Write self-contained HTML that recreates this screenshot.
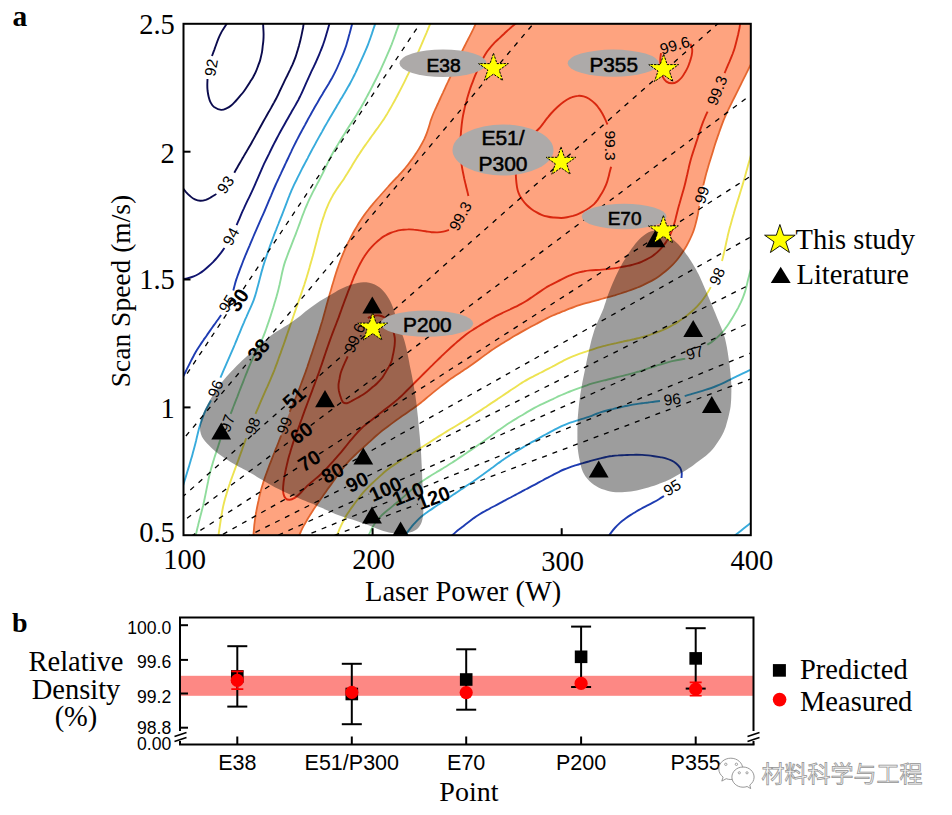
<!DOCTYPE html><html><head><meta charset="utf-8"><style>html,body{margin:0;padding:0;background:#fff;}svg{display:block;}.ser{font-family:"Liberation Serif","Times New Roman",serif;}.sans{font-family:"Liberation Sans",Arial,sans-serif;}</style></head><body>
<svg width="952" height="815" viewBox="0 0 952 815">
<defs><clipPath id="pc"><rect x="183.5" y="23.8" width="567.3" height="511.4"/></clipPath></defs>
<rect width="952" height="815" fill="#fff"/>
<g clip-path="url(#pc)">
<path d="M476.5,22 C476.1,22.9 474.9,25.6 474,27.5 C473.2,29.3 472.3,31.1 471.4,32.9 C470.5,34.7 469.6,36.4 468.7,38.2 C467.8,40 466.8,41.8 465.9,43.5 C465,45.3 464.1,47.1 463.2,48.9 C462.3,50.7 461.4,52.5 460.6,54.3 C459.7,56.1 458.9,57.9 458,59.7 C457.2,61.5 456.4,63.3 455.5,65.2 C454.7,67 453.9,68.8 453.1,70.7 C452.3,72.5 451.5,74.3 450.7,76.1 C449.8,78 449,79.8 448.2,81.6 C447.3,83.4 446.4,85.2 445.6,87 C444.7,88.8 443.9,90.6 443,92.4 C442.2,94.2 441.4,96.1 440.5,97.9 C439.7,99.7 438.9,101.5 438,103.3 C437.2,105.2 436.3,107 435.5,108.8 C434.7,110.6 433.8,112.4 433.1,114.3 C432.3,116.1 431.6,118 431,119.9 C430.4,121.7 429.8,123.7 429.3,125.6 C428.7,127.5 428.1,129.4 427.5,131.3 C426.8,133.1 426.1,135 425.3,136.8 C424.5,138.7 423.6,140.4 422.7,142.2 C421.8,144 421,145.5 419.8,147.4 C418.6,149.4 416.8,152.2 415.5,154.2 C414.2,156.1 413.3,157.5 412.1,159.1 C410.9,160.7 409.7,162.3 408.5,163.9 C407.3,165.5 406.1,167.1 404.8,168.6 C403.5,170.2 402.2,171.7 400.8,173.1 C399.5,174.6 398.1,176 396.7,177.5 C395.3,178.9 393.9,180.4 392.6,181.8 C391.2,183.3 389.9,184.7 388.5,186.2 C387.2,187.7 385.9,189.2 384.5,190.7 C383.2,192.2 381.9,193.7 380.5,195.2 C379.2,196.7 377.9,198.2 376.6,199.7 C375.3,201.2 373.9,202.7 372.7,204.2 C371.4,205.8 370.1,207.3 368.9,208.9 C367.6,210.5 366.4,212 365.2,213.7 C364.1,215.3 362.9,216.9 361.8,218.6 C360.7,220.2 359.6,221.9 358.6,223.6 C357.5,225.3 356.5,227 355.5,228.8 C354.5,230.5 353.5,232.2 352.5,234 C351.6,235.7 350.7,237.5 349.8,239.3 C348.8,241.1 347.9,242.9 347.1,244.7 C346.2,246.5 345.4,248.3 344.6,250.1 C343.8,251.9 343,253.8 342.3,255.6 C341.5,257.5 340.8,259.4 340.1,261.2 C339.4,263.1 338.7,265 338.1,266.9 C337.4,268.8 336.8,270.7 336.2,272.6 C335.6,274.5 335,276.4 334.4,278.3 C333.8,280.2 333.2,282.1 332.7,284 C332.1,286 331.5,287.9 331,289.8 C330.4,291.7 329.9,293.6 329.3,295.6 C328.8,297.5 328.2,299.4 327.7,301.3 C327.2,303.3 326.6,305.2 326.1,307.1 C325.6,309.1 325,311 324.5,312.9 C324,314.8 323.5,316.8 322.9,318.7 C322.4,320.6 321.8,322.5 321.2,324.5 C320.7,326.4 320.1,328.3 319.5,330.2 C318.9,332.1 318.3,334 317.7,335.9 C317,337.8 316.4,339.7 315.8,341.6 C315.2,343.5 314.5,345.4 313.9,347.3 C313.3,349.2 312.6,351.1 312,353 C311.4,354.9 310.7,356.8 310.1,358.7 C309.5,360.6 308.8,362.5 308.2,364.4 C307.6,366.3 306.9,368.2 306.2,370.1 C305.6,371.9 304.9,373.8 304.2,375.7 C303.5,377.6 302.8,379.5 302.1,381.3 C301.4,383.2 300.7,385.1 300,386.9 C299.3,388.8 298.6,390.7 297.8,392.5 C297.1,394.4 296.5,395.9 295.6,398.1 C294.7,400.2 293.3,403.3 292.4,405.4 C291.5,407.6 290.9,409.1 290.1,411 C289.3,412.8 288.5,414.7 287.8,416.5 C287.1,418.4 286.4,420.2 285.7,422.1 C285,424 284.3,425.9 283.7,427.8 C283,429.7 282.4,431.6 281.7,433.5 C281.1,435.3 280.4,437.2 279.7,439.1 C279,441 278.2,442.8 277.5,444.7 C276.8,446.5 276,448.4 275.3,450.2 C274.6,452.1 273.8,454 273.1,455.8 C272.4,457.7 271.6,459.6 270.9,461.4 C270.2,463.3 269.5,465.1 268.7,467 C268,468.9 267.3,470.8 266.7,472.6 C266,474.5 265.3,476.4 264.7,478.3 C264,480.2 263.4,482.1 262.8,484 C262.2,485.9 261.6,487.8 261.1,489.7 C260.6,491.7 260.1,493.6 259.6,495.6 C259.2,497.5 258.7,499.5 258.3,501.4 C257.9,503.4 257.5,505.3 257.1,507.3 C256.7,509.2 256.3,511.2 256,513.2 C255.7,515.1 255.3,517.1 255,519.1 C254.8,521.1 254.5,523.1 254.3,525 C254.1,527 253.9,529 253.8,531 C253.6,533 253.4,536 253.3,537 L298.5,537.0 C298.9,536.1 300,533.3 300.9,531.5 C301.7,529.7 302.6,527.9 303.5,526.2 C304.5,524.4 305.5,522.7 306.5,520.9 C307.5,519.2 308.5,517.5 309.6,515.8 C310.6,514.1 311.7,512.4 312.8,510.7 C313.9,509 315,507.4 316.1,505.7 C317.2,504 318.3,502.4 319.5,500.8 C320.6,499.1 321.8,497.5 322.9,495.9 C324.1,494.2 325.3,492.6 326.4,491 C327.6,489.3 328.8,487.7 329.9,486.1 C331.1,484.4 332.2,482.8 333.4,481.2 C334.6,479.6 335.7,477.9 336.9,476.3 C338.1,474.7 339.3,473.1 340.5,471.5 C341.7,469.9 342.9,468.3 344.1,466.7 C345.4,465.2 346.7,463.6 348,462.1 C349.3,460.6 350.7,459.2 352.1,457.7 C353.5,456.3 355,455 356.4,453.6 C357.9,452.3 359.4,450.9 360.9,449.6 C362.4,448.3 363.9,446.9 365.4,445.6 C366.9,444.3 368.3,442.9 369.8,441.6 C371.3,440.2 372.8,438.9 374.3,437.5 C375.8,436.2 377.3,434.9 378.8,433.6 C380.3,432.3 381.9,431 383.4,429.8 C385,428.5 386.6,427.3 388.2,426.1 C389.8,424.9 391.4,423.7 393,422.6 C394.7,421.4 396.3,420.2 397.9,419 C399.5,417.9 401.2,416.7 402.8,415.6 C404.5,414.4 406.1,413.3 407.8,412.2 C409.4,411.1 411.1,409.9 412.7,408.8 C414.4,407.6 416,406.5 417.6,405.3 C419.2,404 420.7,402.8 422.3,401.5 C423.8,400.3 425.4,399 426.9,397.7 C428.4,396.4 430,395.1 431.5,393.9 C433.1,392.6 434.6,391.3 436.2,390.1 C437.7,388.8 439.3,387.5 440.9,386.3 C442.4,385.1 444,383.8 445.6,382.6 C447.2,381.4 448.8,380.2 450.4,379.1 C452.1,377.9 453.7,376.8 455.4,375.7 C457.1,374.6 458.8,373.5 460.4,372.4 C462.1,371.3 463.8,370.2 465.4,369.1 C467.1,368 468.7,366.8 470.4,365.7 C472,364.5 473.6,363.4 475.3,362.2 C476.9,361 478.5,359.8 480.1,358.6 C481.7,357.5 483.3,356.3 485,355.1 C486.6,353.9 488.2,352.7 489.8,351.6 C491.5,350.4 493.1,349.3 494.8,348.2 C496.4,347 498.1,346 499.8,344.9 C501.5,343.8 503.2,342.8 504.9,341.8 C506.7,340.7 508.4,339.7 510.1,338.7 C511.8,337.6 513.5,336.6 515.2,335.6 C517,334.6 518.7,333.6 520.4,332.6 C522.2,331.6 523.9,330.6 525.7,329.6 C527.4,328.6 529.2,327.7 530.9,326.7 C532.7,325.8 534.5,324.8 536.2,323.9 C538,323 539.8,322 541.5,321.1 C543.3,320.2 545.1,319.2 546.9,318.3 C548.7,317.4 550.5,316.6 552.3,315.8 C554.1,314.9 556,314.2 557.8,313.4 C559.7,312.6 561.5,311.9 563.4,311.1 C565.2,310.4 567.1,309.6 569,308.9 C570.8,308.2 572.7,307.4 574.6,306.8 C576.4,306.1 578.3,305.4 580.2,304.8 C582.1,304.2 584.1,303.7 586,303.2 C587.9,302.6 589.9,302.1 591.8,301.6 C593.7,301.1 595.7,300.6 597.6,300.1 C599.5,299.5 601.5,299 603.4,298.5 C605.3,298 607.3,297.5 609.2,296.9 C611.1,296.4 613.1,295.8 615,295.2 C616.9,294.6 618.8,294 620.7,293.4 C622.6,292.8 624.5,292.2 626.4,291.5 C628.3,290.9 630.2,290.3 632.1,289.6 C634,288.9 635.8,288.2 637.7,287.4 C639.5,286.7 641.3,285.9 643.2,285 C645,284.2 646.8,283.3 648.5,282.4 C650.3,281.4 652.1,280.5 653.8,279.5 C655.5,278.5 657.2,277.4 658.8,276.3 C660.5,275.2 662,273.9 663.6,272.7 C665.2,271.5 666.7,270.2 668.2,268.9 C669.7,267.6 671.2,266.2 672.6,264.8 C674,263.4 675.3,261.9 676.6,260.4 C677.9,258.9 679,257.2 680.2,255.6 C681.4,254 682.5,252.3 683.6,250.7 C684.6,249 685.7,247.3 686.7,245.5 C687.6,243.8 688.6,242 689.5,240.2 C690.4,238.4 691.2,236.6 692,234.8 C692.8,233 693.5,231.1 694.1,229.2 C694.7,227.3 695.2,225.4 695.8,223.5 C696.3,221.5 696.8,219.6 697.2,217.6 C697.6,215.7 698,213.7 698.4,211.8 C698.7,209.8 699,207.8 699.4,205.8 C699.7,203.9 700,201.9 700.4,199.9 C700.8,198 701.1,196 701.5,194 C701.9,192.1 702.3,190.1 702.7,188.2 C703.2,186.2 703.6,184.2 704,182.3 C704.5,180.3 704.9,178.4 705.4,176.4 C705.9,174.5 706.5,172.6 707,170.7 C707.6,168.7 708.2,166.8 708.8,164.9 C709.3,163 709.9,161.1 710.5,159.2 C711.1,157.2 711.7,155.3 712.3,153.4 C712.9,151.5 713.5,149.6 714.1,147.7 C714.7,145.8 715.2,143.9 715.9,142 C716.5,140 717.1,138.1 717.8,136.3 C718.4,134.4 719.1,132.5 719.8,130.6 C720.4,128.7 721.1,126.8 721.8,124.9 C722.5,123.1 723.2,121.2 723.9,119.3 C724.7,117.5 725.5,115.7 726.3,113.8 C727.2,112 728.1,110.2 728.9,108.4 C729.8,106.6 730.7,104.8 731.6,103 C732.5,101.2 733.4,99.5 734.3,97.7 C735.2,95.9 736.1,94.1 737,92.3 C737.9,90.5 738.7,88.7 739.6,86.9 C740.5,85.1 741.4,83.3 742.3,81.5 C743.2,79.7 744.1,77.9 745,76.1 C745.9,74.3 746.8,72.6 747.7,70.8 C748.5,69 749.4,67.2 750.3,65.4 C751.2,63.6 752.6,60.9 753,60 L760,60 L760,15 L476,15 Z" fill="#fea37f"/>
<path d="M476.5,22 C476.1,22.9 474.9,25.7 474,27.5 C473.2,29.3 472.3,31.1 471.4,32.9 C470.5,34.7 469.6,36.5 468.7,38.2 C467.8,40 466.8,41.8 465.9,43.6 C465,45.4 464.1,47.1 463.2,48.9 C462.3,50.7 461.4,52.5 460.5,54.3 C459.7,56.1 458.8,58 458,59.8 C457.1,61.6 456.3,63.4 455.5,65.3 C454.7,67.1 453.9,68.9 453.1,70.8 C452.3,72.6 451.4,74.4 450.6,76.2 C449.8,78.1 448.9,79.9 448.1,81.7 C447.2,83.5 446.4,85.3 445.5,87.1 C444.7,89 443.8,90.8 443,92.6 C442.1,94.4 441.3,96.2 440.5,98 C439.6,99.9 438.8,101.7 438,103.5 C437.1,105.3 436.3,107.1 435.4,109 C434.6,110.8 433.8,112.6 433,114.5 C432.3,116.3 431.7,117.9 430.9,120.1 C430.2,122.3 429.3,125.5 428.6,127.7 C427.9,129.9 427.4,131.5 426.7,133.4 C426,135.2 425.2,137.1 424.4,138.9 C423.5,140.7 422.6,142.5 421.6,144.2 C420.7,146 419.7,147.7 418.6,149.4 C417.6,151.1 416.5,152.8 415.3,154.4 C414.2,156.1 413.1,157.7 411.9,159.4 C410.7,161 409.5,162.6 408.3,164.2 C407.1,165.8 405.8,167.3 404.6,168.9 C403.3,170.4 402,171.9 400.6,173.4 C399.3,174.9 397.8,176.3 396.5,177.7 C395.1,179.2 393.7,180.6 392.3,182.1 C390.9,183.6 389.6,185 388.3,186.5 C386.9,188 385.6,189.5 384.3,191 C382.9,192.5 381.6,194 380.3,195.5 C378.9,197 377.6,198.5 376.3,200 C375,201.5 373.7,203 372.4,204.6 C371.1,206.1 369.8,207.7 368.6,209.3 C367.4,210.8 366.1,212.4 365,214 C363.8,215.7 362.6,217.3 361.5,219 C360.4,220.6 359.4,222.3 358.3,224 C357.3,225.7 356.3,227.5 355.2,229.2 C354.2,230.9 353.3,232.7 352.3,234.4 C351.3,236.2 350.4,238 349.5,239.8 C348.6,241.5 347.7,243.3 346.8,245.2 C346,247 345.2,248.8 344.4,250.6 C343.6,252.5 342.8,254.3 342.1,256.2 C341.3,258 340.6,259.9 339.9,261.8 C339.2,263.7 338.5,265.5 337.9,267.4 C337.2,269.3 336.6,271.2 336,273.1 C335.4,275.1 334.8,277 334.2,278.9 C333.6,280.8 333.1,282.7 332.5,284.6 C331.9,286.6 331.4,288.5 330.8,290.4 C330.2,292.3 329.7,294.3 329.1,296.2 C328.6,298.1 328.1,299.7 327.5,302 C326.9,304.2 326,307.5 325.4,309.7 C324.8,312 324.3,313.6 323.8,315.5 C323.3,317.4 322.7,319.4 322.2,321.3 C321.6,323.2 321,325.1 320.4,327.1 C319.9,329 319.3,330.9 318.7,332.8 C318,334.7 317.4,336.6 316.8,338.5 C316.2,340.4 315.5,342.3 314.9,344.2 C314.3,346.1 313.7,348 313,349.9 C312.4,351.8 311.8,353.7 311.1,355.6 C310.5,357.5 309.9,359.4 309.2,361.3 C308.6,363.2 307.9,365.1 307.3,367 C306.6,368.9 306,370.8 305.3,372.7 C304.6,374.6 303.9,376.5 303.2,378.4 C302.5,380.2 301.8,382.1 301.1,384 C300.4,385.9 299.7,387.7 299,389.6 C298.3,391.5 297.5,393.3 296.7,395.2 C296,397.1 295.2,398.9 294.4,400.7 C293.6,402.6 292.9,404.4 292.1,406.3 C291.3,408.1 290.1,410.9 289.7,411.8" stroke="#e5672f" stroke-width="1.8" fill="none"/><path d="M281.2,435.5 C280.8,436.4 279.7,439.3 278.9,441.2 C278.2,443.1 277.4,445 276.7,446.8 C275.9,448.7 275.1,450.6 274.4,452.5 C273.6,454.4 272.9,456.3 272.2,458.2 C271.4,460.1 270.7,462 269.9,463.9 C269.2,465.8 268.5,467.7 267.8,469.6 C267.1,471.5 266.4,473.4 265.7,475.3 C265,477.3 264.5,478.9 263.7,481.1 C263,483.4 262,486.6 261.3,488.9 C260.7,491.2 260.3,492.8 259.8,494.8 C259.3,496.8 258.9,498.8 258.5,500.8 C258,502.8 257.6,504.8 257.2,506.8 C256.8,508.8 256.4,510.7 256.1,512.8 C255.7,514.8 255.4,516.8 255.1,518.8 C254.8,520.8 254.6,522.8 254.3,524.8 C254.1,526.9 254,528.9 253.8,530.9 C253.6,532.9 253.4,536 253.3,537" stroke="#e5672f" stroke-width="1.8" fill="none"/>
<path d="M298.5,537 C298.9,536.1 300,533.3 300.9,531.5 C301.7,529.7 302.6,527.9 303.5,526.2 C304.5,524.4 305.5,522.7 306.5,521 C307.5,519.2 308.5,517.5 309.6,515.8 C310.6,514.1 311.7,512.4 312.8,510.7 C313.8,509.1 314.9,507.4 316.1,505.7 C317.2,504.1 318.3,502.4 319.5,500.8 C320.6,499.1 321.8,497.5 322.9,495.9 C324.1,494.2 325.3,492.6 326.4,491 C327.6,489.3 328.7,487.7 329.9,486.1 C331.1,484.5 332.2,482.8 333.4,481.2 C334.6,479.6 335.7,477.9 336.9,476.3 C338.1,474.7 339.3,473.1 340.5,471.5 C341.7,469.9 342.9,468.3 344.1,466.7 C345.4,465.2 346.6,463.6 348,462.1 C349.3,460.6 350.7,459.2 352.1,457.8 C353.5,456.4 354.9,455 356.4,453.7 C357.9,452.3 359.4,451 360.9,449.6 C362.4,448.3 363.9,447 365.3,445.6 C366.8,444.3 368.3,442.9 369.8,441.6 C371.3,440.2 372.7,438.9 374.2,437.5 C375.7,436.2 377.2,434.9 378.7,433.6 C380.3,432.3 381.8,431 383.4,429.8 C385,428.6 386.6,427.4 388.2,426.2 C389.8,425 391.4,423.8 393,422.6 C394.6,421.4 396.2,420.2 397.9,419.1 C399.5,417.9 401.1,416.7 402.8,415.6 C404.4,414.5 406.1,413.3 407.7,412.2 C409.4,411.1 411,410 412.7,408.8 C414.3,407.7 415.9,406.5 417.5,405.3 C419.1,404.1 420.7,402.8 422.2,401.6 C423.8,400.3 425.3,399 426.8,397.7 C428.4,396.5 429.9,395.2 431.5,393.9 C433,392.6 434.6,391.3 436.1,390.1 C437.7,388.8 439.2,387.6 440.8,386.4 C442.4,385.1 444,383.9 445.6,382.7 C447.1,381.5 448.8,380.3 450.4,379.1 C452,378 453.7,376.8 455.3,375.7 C457,374.6 458.7,373.5 460.4,372.4 C462,371.3 463.7,370.3 465.4,369.1 C467,368 468.7,366.9 470.3,365.7 C472,364.6 473.6,363.4 475.2,362.2 C476.8,361.1 478.4,359.9 480,358.7 C481.7,357.5 483.3,356.3 484.9,355.1 C486.5,354 488.1,352.8 489.8,351.6 C491.4,350.5 493,349.3 494.7,348.2 C496.4,347.1 498,346 499.7,345 C501.4,343.9 503.1,342.9 504.9,341.8 C506.6,340.8 508.3,339.8 510,338.7 C511.7,337.7 513.4,336.7 515.2,335.6 C516.9,334.6 518.6,333.6 520.3,332.6 C522.1,331.6 523.8,330.6 525.6,329.6 C527.3,328.7 529.1,327.7 530.8,326.8 C532.6,325.8 534.4,324.9 536.1,324 C537.9,323 539.7,322.1 541.4,321.1 C543.2,320.2 545,319.3 546.8,318.4 C548.6,317.5 550.4,316.6 552.2,315.8 C554,315 555.9,314.2 557.7,313.4 C559.6,312.7 561.4,311.9 563.3,311.2 C565.1,310.4 567,309.7 568.8,308.9 C570.7,308.2 572.6,307.5 574.4,306.8 C576.3,306.1 578.2,305.5 580.1,304.9 C582,304.3 584,303.7 585.9,303.2 C587.8,302.7 589.7,302.2 591.7,301.6 C593.6,301.1 595.6,300.6 597.5,300.1 C599.4,299.6 601.4,299.1 603.3,298.5 C605.2,298 607.2,297.5 609.1,296.9 C611,296.4 612.9,295.8 614.8,295.3 C616.8,294.7 618.7,294.1 620.6,293.5 C622.5,292.8 624.4,292.2 626.3,291.6 C628.2,290.9 630.1,290.3 631.9,289.6 C633.8,288.9 635.7,288.2 637.5,287.5 C639.4,286.7 641.2,285.9 643,285.1 C644.8,284.2 646.6,283.3 648.4,282.4 C650.2,281.5 652,280.6 653.7,279.6 C655.4,278.6 657.1,277.5 658.7,276.4 C660.4,275.3 661.9,274 663.5,272.8 C665.1,271.6 666.6,270.3 668.1,269 C669.6,267.7 671.1,266.3 672.5,264.9 C673.9,263.5 675.2,262 676.5,260.5 C677.8,259 678.9,257.4 680.1,255.7 C681.3,254.1 682.4,252.5 683.5,250.8 C684.6,249.1 685.6,247.4 686.6,245.7 C687.6,243.9 688.5,242.2 689.4,240.4 C690.3,238.6 691.1,236.8 691.9,235 C692.7,233.1 693.4,231.3 694,229.4 C694.7,227.5 695.2,225.6 695.7,223.6 C696.2,221.7 696.7,219.8 697.1,217.8 C697.6,215.9 698,213.9 698.3,211.9 C698.6,210 699.1,207 699.2,206" stroke="#e5672f" stroke-width="1.8" fill="none"/><path d="M703.3,185.4 C703.5,184.4 704.2,181.5 704.7,179.5 C705.2,177.5 705.7,175.6 706.2,173.6 C706.7,171.7 707.3,169.8 707.9,167.8 C708.4,165.9 709,163.9 709.6,162 C710.2,160.1 710.8,158.2 711.4,156.2 C712,154.3 712.6,152.4 713.2,150.4 C713.8,148.5 714.4,146.6 715,144.6 C715.6,142.7 716.2,140.8 716.9,138.9 C717.5,137 718.2,135.1 718.9,133.1 C719.5,131.2 720.1,129.6 720.9,127.4 C721.7,125.2 722.9,122.1 723.7,119.9 C724.6,117.7 725.3,116.2 726.1,114.3 C727,112.5 727.8,110.7 728.7,108.9 C729.6,107 730.5,105.2 731.4,103.4 C732.3,101.6 733.2,99.8 734.1,98 C735,96.2 735.9,94.4 736.8,92.6 C737.7,90.8 738.6,89 739.5,87.1 C740.4,85.3 741.3,83.5 742.2,81.7 C743.1,79.9 744,78.1 744.9,76.3 C745.8,74.5 746.7,72.7 747.6,70.9 C748.5,69 749.4,67.2 750.3,65.4 C751.2,63.6 752.6,60.9 753,60" stroke="#e5672f" stroke-width="1.8" fill="none"/>
<path d="M227.9,22 C227.3,22.9 225.6,25.5 224.5,27.3 C223.4,29.1 222.2,30.8 221.2,32.6 C220.2,34.5 219.3,36.4 218.5,38.3 C217.7,40.2 217,42.2 216.3,44.2 C215.6,46.1 214.9,48.1 214.2,50.1 C213.4,52.1 212.4,55 212,56" stroke="#0b0b4e" stroke-width="1.9" fill="none"/><path d="M207.5,79 C207.5,80 207.3,83 207.3,85 C207.3,87 207.4,89.1 207.6,91 C207.9,93 208.2,95 208.7,96.9 C209.2,98.9 209.8,100.9 210.7,102.6 C211.6,104.3 212.4,105.8 214.1,107 C215.9,108.2 219.1,109.7 221.1,109.9 C223.2,110.1 224.8,109.2 226.5,108.4 C228.3,107.7 230,106.5 231.5,105.2 C233.1,104 234.4,102.4 235.7,101 C237.1,99.5 238.4,98 239.7,96.4 C241,94.9 242.4,93.4 243.6,91.8 C244.8,90.2 245.9,88.5 247,86.8 C248.1,85.1 249.2,83.4 250.2,81.7 C251.3,80 252.5,78.4 253.4,76.6 C254.4,74.9 255.3,73.1 256.1,71.2 C256.9,69.4 257.5,67.5 258.2,65.6 C258.9,63.7 259.6,62.1 260.2,59.9 C260.8,57.6 261.5,54.4 262,52.1 C262.4,49.8 262.5,48.1 262.7,46.1 C263,44.1 263.3,42.1 263.4,40.1 C263.6,38.1 263.6,36.1 263.6,34.1 C263.6,32.1 263.4,30 263.3,28 C263.2,26 263.1,23 263,22" stroke="#0b0b4e" stroke-width="1.9" fill="none"/>
<path d="M304,22 C303.8,23 303.3,26 303,28 C302.6,29.9 302.2,31.9 301.8,33.9 C301.4,35.9 301,37.8 300.5,39.8 C300,41.7 299.5,43.7 299,45.6 C298.4,47.5 297.9,49.5 297.3,51.4 C296.7,53.3 296.3,54.9 295.5,57.1 C294.7,59.3 293.4,62.4 292.5,64.6 C291.5,66.7 290.8,68.2 289.9,70.1 C289,71.9 288.1,73.7 287.3,75.5 C286.4,77.3 285.5,79.1 284.6,80.9 C283.8,82.7 282.9,84.6 282,86.4 C281.2,88.2 280.3,90 279.4,91.8 C278.6,93.7 277.7,95.5 276.8,97.3 C275.9,99.1 274.9,100.8 274,102.6 C273,104.4 272,106.1 271.1,107.9 C270.1,109.7 269.1,111.4 268.1,113.1 C267.1,114.9 266.1,116.6 265.1,118.4 C264.1,120.2 263.1,121.9 262.1,123.7 C261.2,125.4 260.2,127.2 259.2,129 C258.3,130.7 257.5,132.2 256.3,134.3 C255.2,136.3 253.6,139.3 252.4,141.3 C251.3,143.4 250.5,144.8 249.5,146.6 C248.5,148.3 247.4,150 246.4,151.8 C245.4,153.5 244.3,155.2 243.3,157 C242.3,158.7 241.3,160.5 240.3,162.2 C239.3,163.9 238.3,165.7 237.3,167.4 C236.3,169.2 234.8,171.8 234.3,172.7" stroke="#0b0b4e" stroke-width="1.9" fill="none"/><path d="M216.4,194 C215.5,194.5 212.9,196.3 211.2,197.2 C209.4,198.2 207.6,199.3 205.8,199.9 C204,200.4 202.1,200.9 200.3,200.8 C198.5,200.7 196.6,200.2 194.9,199.4 C193.2,198.6 191.6,197.4 190.1,196.1 C188.6,194.9 187.2,193.3 185.8,191.8 C184.5,190.3 182.6,187.8 182,187" stroke="#0b0b4e" stroke-width="1.9" fill="none"/>
<path d="M330,22 C329.7,23 328.9,25.8 328.3,27.8 C327.8,29.7 327.2,31.6 326.6,33.5 C326.1,35.4 325.5,37.4 324.9,39.3 C324.3,41.2 323.6,43.1 323,44.9 C322.3,46.8 321.6,48.7 320.8,50.5 C320.1,52.4 319.3,54.2 318.5,56.1 C317.8,57.9 316.9,59.7 316.1,61.6 C315.3,63.4 314.4,65.2 313.6,67 C312.7,68.8 311.9,70.6 311,72.4 C310.2,74.2 309.3,76.1 308.5,77.9 C307.7,79.7 306.9,81.5 306,83.3 C305.2,85.2 304.4,87 303.6,88.8 C302.8,90.6 302,92.5 301.1,94.3 C300.2,96.1 299.4,97.9 298.5,99.7 C297.5,101.4 296.6,103.2 295.6,104.9 C294.6,106.7 293.6,108.4 292.6,110.1 C291.6,111.8 290.6,113.6 289.6,115.3 C288.6,117 287.8,118.5 286.6,120.5 C285.5,122.6 283.9,125.5 282.7,127.5 C281.6,129.5 280.8,131 279.8,132.8 C278.9,134.5 277.9,136.3 277,138 C276.1,139.8 275.1,141.6 274.2,143.4 C273.3,145.2 272.4,146.9 271.5,148.7 C270.6,150.5 269.7,152.3 268.9,154.1 C268,155.9 267.1,157.7 266.2,159.5 C265.3,161.3 264.5,163.1 263.6,164.9 C262.8,166.7 262,168.5 261.2,170.4 C260.4,172.2 259.6,174 258.8,175.9 C258,177.7 257.2,179.6 256.4,181.4 C255.6,183.2 254.9,185.1 254,186.9 C253.2,188.7 252.4,190.5 251.5,192.4 C250.7,194.2 249.8,196 248.9,197.8 C248,199.6 247.2,201.3 246.3,203.1 C245.4,205 244.6,206.8 243.8,208.6 C242.9,210.4 242.1,212.2 241.3,214.1 C240.5,215.9 239.8,217.7 239,219.6 C238.2,221.4 237,224.2 236.6,225.1" stroke="#101470" stroke-width="1.9" fill="none"/><path d="M224.5,248 C223.9,248.8 222.1,251.3 220.9,252.9 C219.6,254.5 218.4,256.1 217.1,257.6 C215.8,259.1 214.4,260.6 213,262.1 C211.6,263.5 210.1,264.9 208.6,266.3 C207.1,267.7 205.6,269 204,270.2 C202.4,271.5 200.7,272.7 199,273.7 C197.3,274.7 195.5,275.6 193.7,276.3 C191.8,277.1 189.9,277.6 187.9,278.1 C186,278.6 183,279 182,279.2" stroke="#101470" stroke-width="1.9" fill="none"/>
<path d="M352.7,22 C352.4,23 351.7,25.9 351.1,27.8 C350.6,29.7 350.1,31.7 349.6,33.6 C349,35.6 348.5,37.5 348,39.4 C347.4,41.3 346.9,43.3 346.3,45.2 C345.7,47.1 345,49 344.3,50.9 C343.6,52.7 342.9,54.6 342.1,56.4 C341.3,58.3 340.5,60.1 339.7,62 C338.9,63.8 338.1,65.6 337.3,67.5 C336.5,69.3 335.6,71.1 334.7,72.9 C333.8,74.7 332.9,76.4 331.9,78.2 C330.9,79.9 329.9,81.7 328.9,83.4 C327.8,85.1 326.8,86.8 325.8,88.5 C324.7,90.2 323.7,92 322.7,93.7 C321.6,95.4 320.6,97.1 319.6,98.8 C318.6,100.6 317.6,102.3 316.6,104.1 C315.6,105.8 314.6,107.5 313.6,109.3 C312.6,111 311.6,112.8 310.7,114.5 C309.7,116.3 308.7,118 307.7,119.8 C306.8,121.6 305.8,123.3 304.9,125.1 C303.9,126.9 303,128.6 302,130.4 C301.1,132.2 300.1,133.9 299.2,135.7 C298.3,137.5 297.3,139.2 296.4,141 C295.5,142.8 294.6,144.6 293.7,146.4 C292.8,148.2 291.9,150 291.1,151.8 C290.2,153.6 289.4,155.4 288.5,157.3 C287.7,159.1 286.8,160.9 286,162.7 C285.1,164.5 284.3,166.3 283.4,168.2 C282.6,170 281.7,171.8 280.9,173.6 C280,175.4 279.2,177.2 278.3,179.1 C277.5,180.9 276.6,182.7 275.8,184.5 C275,186.4 274.2,188.2 273.4,190 C272.6,191.9 271.8,193.7 271.1,195.6 C270.3,197.4 269.5,199.3 268.7,201.1 C268,203 267.2,204.8 266.4,206.7 C265.6,208.5 264.9,210.4 264.1,212.2 C263.3,214.1 262.5,215.9 261.6,217.7 C260.8,219.6 260,221.4 259.2,223.2 C258.4,225.1 257.6,226.9 256.8,228.7 C256,230.6 255.2,232.4 254.4,234.2 C253.6,236.1 252.8,237.9 252,239.8 C251.2,241.6 250.4,243.5 249.7,245.3 C248.9,247.2 248.1,249 247.3,250.9 C246.6,252.7 245.8,254.6 245,256.4 C244.3,258.3 243.5,260.1 242.8,262 C242.1,263.9 241.3,265.8 240.6,267.6 C239.9,269.5 239.2,271.4 238.5,273.3 C237.8,275.1 237.2,277 236.5,278.9 C235.9,280.8 235.3,282.8 234.8,284.7 C234.3,286.6 233.6,289.5 233.3,290.5" stroke="#1e3cb2" stroke-width="1.9" fill="none"/><path d="M221.1,315 C220.5,315.8 218.8,318.3 217.6,320 C216.4,321.6 215.3,323.3 214.1,324.9 C212.9,326.6 211.8,328.3 210.6,329.9 C209.4,331.6 208.3,333.2 207.1,334.9 C206,336.6 204.8,338.2 203.6,339.9 C202.5,341.6 201.3,343.2 200.2,344.9 C199.1,346.6 198,348.3 196.9,350 C195.9,351.7 194.9,353.5 193.9,355.3 C193,357.1 192,358.9 191.1,360.7 C190.2,362.5 189.3,364.3 188.4,366.1 C187.5,367.9 186.6,369.7 185.7,371.5 C184.8,373.4 183.4,376.1 183,377" stroke="#1e3cb2" stroke-width="1.9" fill="none"/>
<path d="M375.8,22 C375.5,23 374.5,25.8 373.9,27.7 C373.2,29.6 372.6,31.5 372,33.4 C371.3,35.3 370.7,37.2 370,39.1 C369.3,41 368.7,42.9 367.9,44.8 C367.2,46.6 366.4,48.5 365.6,50.3 C364.8,52.2 364,54 363.2,55.8 C362.4,57.6 361.5,59.5 360.7,61.3 C359.9,63.1 359,65 358.2,66.8 C357.4,68.6 356.5,70.4 355.7,72.3 C354.8,74.1 354,75.9 353.1,77.7 C352.2,79.5 351.3,81.3 350.3,83 C349.4,84.8 348.3,86.5 347.3,88.2 C346.3,90 345.3,91.7 344.3,93.4 C343.3,95.2 342.2,96.9 341.2,98.6 C340.2,100.3 339.2,102.1 338.2,103.8 C337.1,105.5 336.3,107 335.1,109 C333.9,111 332.2,113.9 331,115.9 C329.8,117.9 329,119.4 328,121.1 C327,122.9 326,124.6 325,126.3 C324,128.1 323,129.8 322.1,131.6 C321.1,133.4 320.1,135.1 319.1,136.9 C318.2,138.6 317.2,140.4 316.2,142.1 C315.3,143.9 314.3,145.7 313.3,147.4 C312.4,149.2 311.4,151 310.5,152.7 C309.6,154.5 308.6,156.3 307.7,158.1 C306.8,159.8 305.8,161.6 304.9,163.4 C304,165.2 303,166.9 302.1,168.7 C301.2,170.5 300.3,172.3 299.4,174.1 C298.5,175.9 297.5,177.7 296.7,179.5 C295.8,181.3 294.9,183.1 294,184.9 C293.2,186.7 292.3,188.5 291.5,190.4 C290.8,192.2 290,194.1 289.3,195.9 C288.5,197.8 287.8,199.7 287.1,201.6 C286.4,203.4 285.7,205.3 285,207.2 C284.3,209.1 283.6,210.9 282.8,212.8 C282.1,214.7 281.4,216.5 280.6,218.4 C279.9,220.3 279.1,222.1 278.4,224 C277.6,225.9 276.9,227.7 276.2,229.6 C275.4,231.5 274.7,233.3 274,235.2 C273.3,237.1 272.6,239 271.9,240.8 C271.2,242.7 270.5,244.6 269.8,246.5 C269.2,248.4 268.5,250.3 267.8,252.2 C267.2,254.1 266.5,256 265.9,257.9 C265.2,259.8 264.6,261.7 264,263.6 C263.4,265.5 262.8,267.4 262.3,269.4 C261.7,271.3 261.2,273.2 260.7,275.2 C260.2,277.1 259.8,278.7 259.2,281 C258.6,283.3 257.7,286.5 257.1,288.8 C256.5,291 256.1,292.6 255.5,294.6 C254.9,296.5 254.3,298.4 253.6,300.3 C252.9,302.1 252.1,304 251.3,305.8 C250.5,307.6 249.7,309.5 248.8,311.3 C248,313.1 247.2,314.9 246.4,316.8 C245.5,318.6 244.7,320.4 244,322.3 C243.2,324.1 242.4,326 241.6,327.8 C240.9,329.7 240.1,331.6 239.4,333.4 C238.6,335.3 237.8,337.1 237.1,339 C236.3,340.8 235.5,342.7 234.8,344.5 C234,346.4 233.2,348.2 232.4,350.1 C231.6,351.9 230.8,353.8 230,355.6 C229.2,357.5 228.4,359.3 227.6,361.1 C226.8,363 226,364.8 225.2,366.7 C224.4,368.5 223.6,370.3 222.8,372.2 C222,374 220.8,376.8 220.4,377.7" stroke="#38abdc" stroke-width="1.9" fill="none"/><path d="M211,400.4 C210.5,401.3 209,403.9 208.1,405.7 C207.1,407.5 206.2,409.3 205.3,411.2 C204.5,413 203.7,414.9 202.9,416.8 C202.2,418.7 201.6,420.6 200.9,422.5 C200.3,424.4 199.7,426.4 199.1,428.3 C198.6,430.3 198.1,432.3 197.6,434.2 C197.1,436.2 196.7,437.9 196.2,440.2 C195.6,442.5 194.8,445.8 194.2,448.1 C193.6,450.4 193.1,452 192.6,453.9 C192.1,455.9 191.5,457.9 190.9,459.8 C190.4,461.8 189.8,463.7 189.2,465.7 C188.6,467.6 188,469.6 187.4,471.5 C186.8,473.5 186.2,475.4 185.6,477.4 C185,479.3 184.4,481.2 183.8,483.2 C183.2,485.1 182.3,488 182,489" stroke="#38abdc" stroke-width="1.9" fill="none"/>
<path d="M399.8,22 C399.5,22.9 398.4,25.8 397.8,27.7 C397.1,29.5 396.4,31.4 395.7,33.3 C395,35.2 394.4,37.1 393.7,39 C393,40.8 392.3,42.7 391.6,44.6 C390.8,46.4 390.1,48.3 389.3,50.2 C388.5,52 387.7,53.8 386.9,55.7 C386.1,57.5 385.3,59.3 384.5,61.2 C383.7,63 382.9,64.8 382,66.6 C381.2,68.5 380.4,70.3 379.5,72.1 C378.6,73.9 377.7,75.7 376.8,77.5 C375.9,79.3 375,81.1 374.1,82.8 C373.2,84.6 372.3,86.4 371.4,88.2 C370.5,90 369.5,91.7 368.6,93.5 C367.7,95.3 366.7,97 365.8,98.8 C364.8,100.6 363.8,102.3 362.9,104.1 C361.9,105.8 360.9,107.6 359.9,109.3 C358.9,111 357.8,112.7 356.8,114.4 C355.7,116.1 354.6,117.8 353.6,119.5 C352.5,121.2 351.4,122.9 350.3,124.6 C349.2,126.3 348.2,127.9 347.1,129.6 C346,131.3 345,133 343.9,134.7 C342.8,136.4 341.8,138.1 340.7,139.8 C339.7,141.5 338.6,143.2 337.6,145 C336.5,146.7 335.5,148.4 334.5,150.1 C333.5,151.8 332.5,153.6 331.6,155.3 C330.6,157.1 329.7,158.9 328.8,160.7 C327.9,162.5 327.1,164.3 326.2,166.1 C325.3,167.9 324.5,169.7 323.6,171.5 C322.7,173.3 321.8,175.1 320.9,176.9 C320,178.7 319.1,180.4 318.1,182.2 C317.2,184 316.2,185.7 315.3,187.5 C314.4,189.3 313.4,191.1 312.5,192.8 C311.6,194.6 310.7,196.4 309.9,198.2 C309,200 308.2,201.9 307.4,203.7 C306.6,205.5 305.9,207.1 305,209.2 C304.2,211.4 303,214.5 302.1,216.7 C301.3,218.9 300.8,220.4 300.1,222.3 C299.4,224.2 298.7,226.1 298,228 C297.3,229.8 296.6,231.7 295.9,233.6 C295.2,235.5 294.4,237.3 293.7,239.2 C293,241.1 292.3,242.9 291.5,244.8 C290.8,246.7 290.1,248.5 289.3,250.4 C288.6,252.3 287.9,254.1 287.2,256 C286.5,257.9 285.8,259.7 285.1,261.6 C284.5,263.5 283.9,265.4 283.4,267.4 C282.9,269.3 282.5,271.3 282,273.2 C281.6,275.2 281.2,277.1 280.8,279.1 C280.4,281 279.9,283 279.5,285 C279,286.9 278.6,288.9 278.1,290.8 C277.6,292.7 277,294.7 276.5,296.6 C275.9,298.5 275.4,300.4 274.8,302.3 C274.2,304.3 273.6,306.2 273.1,308.1 C272.5,310 271.9,311.9 271.3,313.8 C270.7,315.8 270.1,317.7 269.4,319.6 C268.8,321.5 268.1,323.3 267.5,325.2 C266.8,327.1 266.2,329 265.5,330.9 C264.8,332.8 264.1,334.7 263.3,336.5 C262.6,338.4 261.8,340.2 260.9,342 C260.1,343.8 259.2,345.6 258.2,347.4 C257.3,349.1 256.4,350.9 255.5,352.7 C254.6,354.5 253.7,356.3 252.8,358.1 C252,359.9 251.2,361.7 250.4,363.6 C249.6,365.4 248.9,367.3 248.1,369.1 C247.4,371 246.7,372.9 245.9,374.7 C245.2,376.6 244.4,378.4 243.7,380.3 C243,382.2 242.3,384 241.5,385.9 C240.8,387.8 240.1,389.6 239.3,391.5 C238.6,393.4 237.9,395.2 237.2,397.1 C236.4,399 235.7,400.8 235,402.7 C234.3,404.6 233.5,406.4 232.8,408.3 C232.1,410.2 231,413 230.6,413.9" stroke="#8fdc9c" stroke-width="1.9" fill="none"/><path d="M220.4,439.5 C220.1,440.5 219.1,443.3 218.5,445.2 C217.9,447.2 217.2,449.1 216.6,451 C216,452.9 215.3,454.8 214.7,456.7 C214.1,458.7 213.6,460.3 212.9,462.5 C212.3,464.8 211.3,468 210.7,470.2 C210,472.5 209.7,474.1 209.2,476.1 C208.8,478.1 208.4,480 208,482 C207.6,484 207.2,486 206.8,487.9 C206.4,489.9 206,491.9 205.6,493.9 C205.2,495.8 204.8,497.8 204.4,499.8 C204,501.8 203.6,503.4 203.1,505.7 C202.5,508 201.7,511.2 201.1,513.5 C200.5,515.8 200.1,517.4 199.6,519.3 C199.1,521.3 198.5,523.2 198.1,525.2 C197.6,527.2 197.1,529.1 196.7,531.1 C196.3,533 195.7,536 195.5,537" stroke="#8fdc9c" stroke-width="1.9" fill="none"/>
<path d="M431,22 C430.6,22.9 429.5,25.7 428.7,27.5 C427.9,29.4 427.1,31.2 426.4,33.1 C425.6,34.9 424.8,36.8 424,38.6 C423.2,40.4 422.5,42.3 421.7,44.1 C420.9,46 420.1,47.8 419.3,49.6 C418.5,51.5 417.7,53.3 416.9,55.1 C416.1,57 415.3,58.8 414.4,60.6 C413.6,62.4 412.8,64.3 412,66.1 C411.2,67.9 410.3,69.7 409.5,71.5 C408.6,73.3 407.7,75.1 406.8,76.9 C406,78.7 405.1,80.5 404.2,82.3 C403.3,84.1 402.4,85.9 401.5,87.7 C400.6,89.5 399.7,91.2 398.7,93 C397.8,94.8 396.9,96.6 395.9,98.3 C395,100.1 394,101.8 393,103.6 C392.1,105.3 391.1,107.1 390.1,108.8 C389.1,110.5 388.1,112.3 387.1,114 C386,115.7 385,117.4 383.9,119.1 C382.8,120.7 381.6,122.4 380.5,124 C379.3,125.6 378.2,127.3 377,128.9 C375.8,130.5 374.7,132.1 373.5,133.8 C372.3,135.4 371.1,137 370,138.6 C368.8,140.3 367.7,141.9 366.5,143.5 C365.3,145.2 364.2,146.8 363,148.4 C361.9,150.1 360.8,151.7 359.7,153.4 C358.6,155.1 357.5,156.7 356.4,158.4 C355.4,160.1 354.3,161.9 353.3,163.6 C352.3,165.3 351.2,167 350.2,168.7 C349.2,170.4 348.1,172.1 347.1,173.8 C346,175.5 345,177.2 343.9,178.9 C342.8,180.6 341.6,182.2 340.5,183.8 C339.3,185.5 338.1,187.1 337,188.7 C335.9,190.4 334.8,192.1 333.8,193.8 C332.8,195.5 331.9,197.3 330.9,199 C330,200.8 329.2,202.6 328.3,204.4 C327.5,206.3 326.7,208.1 326,209.9 C325.3,211.8 324.6,213.7 324,215.6 C323.3,217.5 322.7,219.4 322.1,221.3 C321.5,223.2 320.9,225.1 320.4,227 C319.8,228.9 319.3,230.9 318.8,232.8 C318.3,234.7 317.8,236.7 317.3,238.6 C316.8,240.6 316.3,242.5 315.8,244.4 C315.3,246.4 314.8,248.3 314.3,250.3 C313.8,252.2 313.3,254.1 312.8,256 C312.2,258 311.7,259.9 311.1,261.8 C310.6,263.8 310,265.7 309.5,267.6 C308.9,269.5 308.4,271.4 307.8,273.4 C307.2,275.3 306.7,277.2 306.1,279.1 C305.5,281 304.9,282.9 304.3,284.8 C303.6,286.7 303,288.6 302.3,290.5 C301.7,292.4 301,294.3 300.4,296.2 C299.7,298.1 299,300 298.4,301.8 C297.7,303.7 297.1,305.6 296.4,307.5 C295.7,309.4 295.1,311.3 294.4,313.2 C293.8,315.1 293.1,317 292.5,318.9 C291.8,320.7 291.2,322.6 290.5,324.5 C289.9,326.4 289.2,328.3 288.6,330.2 C287.9,332.1 287.3,334 286.6,335.9 C286,337.8 285.4,339.7 284.7,341.6 C284,343.5 283.4,345.4 282.7,347.2 C282,349.1 281.3,351 280.7,352.9 C280,354.8 279.3,356.6 278.6,358.5 C277.9,360.4 277.3,362.3 276.6,364.2 C275.9,366 275.2,367.9 274.5,369.8 C273.7,371.7 273,373.5 272.2,375.4 C271.5,377.2 270.7,379 269.9,380.9 C269.1,382.7 268.3,384.5 267.5,386.4 C266.6,388.2 265.8,390 265,391.9 C264.2,393.7 263.4,395.5 262.6,397.4 C261.8,399.2 261,401 260.2,402.9 C259.4,404.7 258.7,406.5 257.9,408.4 C257.1,410.2 255.9,413 255.5,413.9" stroke="#ede352" stroke-width="1.9" fill="none"/><path d="M246.1,438.2 C245.8,439.2 244.8,442 244.1,443.9 C243.4,445.8 242.7,447.7 242.1,449.6 C241.4,451.5 240.7,453.4 240,455.3 C239.3,457.2 238.7,459.1 238,461 C237.3,462.9 236.6,464.8 235.9,466.7 C235.2,468.6 234.5,470.5 233.8,472.4 C233.1,474.3 232.4,476.2 231.7,478.1 C231,480 230.3,481.9 229.7,483.8 C229,485.7 228.4,487.7 227.8,489.6 C227.2,491.5 226.6,493.4 226.1,495.4 C225.5,497.3 224.9,499.2 224.4,501.2 C223.9,503.2 223.4,505.1 223,507.1 C222.6,509.1 222.2,511 221.9,513 C221.5,515 221.2,517 220.9,519 C220.6,521 220.3,523 220,525 C219.7,527 219.4,529 219.1,531 C218.8,533 218.4,536 218.3,537" stroke="#ede352" stroke-width="1.9" fill="none"/>
<path d="M753,148 C752.7,149 751.9,151.9 751.3,153.8 C750.8,155.8 750.2,157.7 749.7,159.7 C749.1,161.6 748.6,163.6 748,165.5 C747.5,167.5 747,169.4 746.4,171.3 C745.9,173.3 745.3,175.2 744.8,177.2 C744.2,179.1 743.7,181.1 743.1,183 C742.6,185 742,186.9 741.4,188.8 C740.8,190.8 740.2,192.7 739.6,194.6 C739,196.6 738.5,198.2 737.8,200.4 C737.1,202.7 736.1,205.9 735.4,208.1 C734.7,210.4 734.2,212 733.7,213.9 C733.1,215.9 732.6,217.8 732,219.8 C731.5,221.7 730.9,223.7 730.4,225.6 C729.8,227.6 729.3,229.5 728.8,231.5 C728.3,233.4 727.8,235.4 727.4,237.4 C726.9,239.3 726.5,241.3 726.1,243.3 C725.7,245.3 725.3,247.2 724.8,249.2 C724.4,251.2 723.9,253.2 723.5,255.1 C723,257.1 722.2,260 722,261" stroke="#ede352" stroke-width="1.9" fill="none"/><path d="M710.8,287.1 C710.3,288 708.8,290.6 707.8,292.3 C706.7,294 705.7,295.7 704.5,297.3 C703.4,299 702.2,300.6 700.9,302.1 C699.6,303.6 698.3,305.1 696.9,306.6 C695.5,308 694.1,309.4 692.6,310.7 C691.1,312.1 689.6,313.3 688,314.6 C686.5,315.8 684.9,317.1 683.3,318.2 C681.6,319.4 680,320.5 678.3,321.6 C676.6,322.7 674.9,323.8 673.2,324.8 C671.5,325.8 669.7,326.8 667.9,327.6 C666.2,328.5 664.3,329.4 662.5,330.2 C660.7,331 658.8,331.7 656.9,332.4 C655.1,333.1 653.2,333.8 651.3,334.4 C649.4,335 647.4,335.6 645.5,336.2 C643.6,336.7 641.7,337.3 639.7,337.8 C637.8,338.3 635.8,338.7 633.9,339.2 C631.9,339.6 630,340.1 628,340.5 C626.1,340.9 624.1,341.3 622.1,341.8 C620.2,342.2 618.2,342.6 616.3,343.1 C614.3,343.5 612.3,343.9 610.4,344.4 C608.4,344.8 606.5,345.3 604.5,345.8 C602.6,346.3 600.7,346.9 598.8,347.4 C596.9,348 595,348.7 593,349.3 C591.1,349.9 589.2,350.5 587.3,351.2 C585.4,351.8 583.5,352.5 581.6,353.1 C579.7,353.8 577.8,354.4 576,355.1 C574.1,355.8 572.2,356.5 570.4,357.3 C568.6,358.1 566.8,359 565,359.9 C563.2,360.8 561.5,361.8 559.7,362.7 C557.9,363.7 556.2,364.6 554.4,365.6 C552.6,366.5 550.9,367.5 549.1,368.4 C547.3,369.3 545.5,370.2 543.7,371.2 C542,372.1 540.2,372.9 538.4,373.8 C536.6,374.7 534.8,375.6 533,376.6 C531.2,377.5 529.4,378.4 527.7,379.4 C526,380.4 524.2,381.4 522.5,382.4 C520.8,383.5 519.2,384.6 517.5,385.7 C515.8,386.8 514.1,387.9 512.5,389 C510.8,390.1 509.1,391.3 507.5,392.4 C505.8,393.5 504.1,394.6 502.5,395.7 C500.8,396.8 499.1,397.9 497.5,399.1 C495.8,400.2 494.1,401.3 492.5,402.4 C490.8,403.5 489.1,404.6 487.5,405.7 C485.8,406.9 484.1,408 482.5,409.1 C480.8,410.2 479.1,411.3 477.5,412.4 C475.8,413.5 474.1,414.6 472.4,415.7 C470.8,416.8 469.1,417.9 467.4,419 C465.7,420 464,421.1 462.3,422.1 C460.5,423.2 458.8,424.2 457.1,425.2 C455.4,426.3 453.7,427.3 451.9,428.3 C450.2,429.4 448.5,430.4 446.8,431.4 C445.1,432.5 443.3,433.5 441.6,434.6 C439.9,435.6 438.2,436.7 436.5,437.7 C434.8,438.8 433.2,439.9 431.5,441 C429.8,442.1 428.1,443.2 426.4,444.2 C424.7,445.3 423,446.4 421.4,447.5 C419.7,448.6 418,449.7 416.3,450.7 C414.6,451.8 412.9,452.9 411.2,454 C409.5,455 407.8,456.1 406.1,457.2 C404.4,458.3 402.7,459.3 401,460.4 C399.4,461.5 397.7,462.5 396,463.6 C394.3,464.7 392.6,465.8 391,467 C389.4,468.2 387.8,469.4 386.3,470.6 C384.7,471.9 383.2,473.2 381.7,474.6 C380.2,475.9 378.7,477.3 377.3,478.6 C375.8,480 374.3,481.3 372.8,482.7 C371.4,484 369.9,485.4 368.5,486.8 C367.1,488.2 365.7,489.7 364.4,491.2 C363,492.7 361.8,494.2 360.5,495.8 C359.3,497.3 358.1,498.9 356.9,500.5 C355.7,502.1 354.4,503.7 353.3,505.4 C352.1,507 350.9,508.6 349.8,510.2 C348.6,511.9 347.6,513.6 346.5,515.3 C345.5,517 344.6,518.8 343.7,520.5 C342.7,522.3 341.8,524.1 341,525.9 C340.1,527.7 339.3,529.6 338.6,531.4 C337.8,533.2 336.8,536.1 336.5,537" stroke="#ede352" stroke-width="1.9" fill="none"/>
<path d="M753,262 C752.7,263 751.8,265.9 751.3,267.8 C750.7,269.8 750.1,271.7 749.6,273.7 C749.1,275.7 748.6,277.6 748.1,279.6 C747.6,281.6 747.2,283.5 746.7,285.5 C746.2,287.5 745.7,289.4 745.1,291.4 C744.5,293.3 743.9,295.2 743.1,297.1 C742.4,299 741.5,300.8 740.7,302.6 C739.8,304.5 738.9,306.3 738,308.1 C737,309.9 736,311.6 735,313.4 C734,315.2 733,316.9 732,318.6 C730.9,320.4 729.8,322.1 728.7,323.8 C727.6,325.5 726.5,327.1 725.2,328.7 C724,330.3 722.7,331.9 721.3,333.3 C719.9,334.8 718.5,336.2 717,337.6 C715.5,338.9 713.9,340.2 712.3,341.4 C710.7,342.6 708.1,344.2 707.3,344.8" stroke="#8fdc9c" stroke-width="1.9" fill="none"/><path d="M685.3,358.6 C684.3,358.8 681.4,359.3 679.4,359.7 C677.4,360.1 675.5,360.5 673.5,360.9 C671.5,361.3 669.6,361.8 667.7,362.3 C665.7,362.8 663.8,363.4 661.9,364 C660,364.5 658.1,365.2 656.2,365.8 C654.3,366.4 652.4,367.1 650.5,367.7 C648.6,368.4 646.7,369 644.8,369.6 C642.9,370.3 641,370.9 639.1,371.5 C637.1,372 635.2,372.6 633.3,373.1 C631.4,373.7 629.4,374.2 627.5,374.7 C625.5,375.2 623.6,375.6 621.6,376.1 C619.7,376.6 617.8,377.1 615.8,377.5 C613.9,378 611.9,378.5 610,379 C608,379.5 606.1,379.9 604.1,380.4 C602.2,380.9 600.2,381.4 598.3,381.9 C596.4,382.4 594.4,382.9 592.5,383.4 C590.6,384 588.7,384.6 586.8,385.3 C584.9,385.9 583,386.6 581.1,387.3 C579.2,388 577.4,388.7 575.5,389.4 C573.6,390.1 571.7,390.8 569.9,391.5 C568,392.3 566.2,393 564.3,393.8 C562.5,394.6 560.6,395.4 558.8,396.2 C557,397.1 555.2,397.9 553.4,398.8 C551.5,399.6 549.7,400.4 547.9,401.3 C546.1,402.2 544.3,403 542.5,403.9 C540.7,404.7 538.9,405.6 537.1,406.5 C535.3,407.5 533.6,408.4 531.8,409.4 C530.1,410.4 528.4,411.4 526.6,412.4 C524.9,413.4 523.2,414.5 521.5,415.5 C519.7,416.5 518,417.5 516.3,418.6 C514.6,419.6 512.9,420.6 511.2,421.7 C509.5,422.8 507.8,423.8 506.1,425 C504.5,426.1 502.8,427.2 501.2,428.4 C499.6,429.6 497.9,430.7 496.3,431.9 C494.7,433.1 493.1,434.3 491.5,435.5 C489.9,436.7 488.2,437.8 486.6,439 C485,440.2 483.4,441.4 481.8,442.6 C480.1,443.7 478.5,444.9 476.8,446 C475.2,447.2 473.5,448.3 471.9,449.4 C470.2,450.6 468.6,451.7 466.9,452.8 C465.2,453.9 463.6,455 461.9,456.1 C460.2,457.2 458.6,458.3 456.9,459.5 C455.2,460.6 453.6,461.7 451.9,462.8 C450.2,463.8 448.5,464.9 446.8,466 C445.1,467 443.4,468.1 441.7,469.1 C440,470.2 438.3,471.2 436.5,472.2 C434.8,473.3 433.1,474.3 431.4,475.3 C429.7,476.4 428,477.4 426.3,478.5 C424.6,479.6 422.9,480.7 421.3,481.8 C419.7,483 418.1,484.2 416.5,485.5 C415,486.7 413.5,488.1 412,489.4 C410.5,490.7 409,492 407.5,493.4 C406,494.7 404.5,496.1 403,497.4 C401.5,498.7 400,500 398.5,501.3 C396.9,502.6 395.4,503.9 393.8,505.1 C392.3,506.4 390.7,507.7 389.2,508.9 C387.6,510.2 386,511.4 384.5,512.7 C383,514 381.5,515.4 380.2,516.8 C378.8,518.2 377.6,519.8 376.4,521.3 C375.2,522.9 374.1,524.6 373.1,526.3 C372.1,528 371.1,529.8 370.3,531.6 C369.4,533.3 368.4,536.1 368,537" stroke="#8fdc9c" stroke-width="1.9" fill="none"/>
<path d="M753,369 C752.1,369.4 749.2,370.5 747.3,371.3 C745.5,372.1 743.6,373 741.8,373.9 C739.9,374.7 738.1,375.7 736.2,376.6 C734.4,377.5 732.6,378.4 730.7,379.3 C728.9,380.2 727.1,381.2 725.2,382.1 C723.4,383 721.6,383.9 719.7,384.7 C717.8,385.5 715.9,386.3 714,387 C712.1,387.7 710.2,388.4 708.2,389 C706.3,389.6 704.3,390.2 702.4,390.8 C700.4,391.4 698.4,392 696.5,392.6 C694.5,393.2 692.5,393.7 690.6,394.3 C688.6,394.9 685.7,395.8 684.7,396.1" stroke="#38abdc" stroke-width="1.9" fill="none"/><path d="M660,401 C659,401.1 656,401.5 654,401.7 C652.1,402 650.1,402.2 648.1,402.5 C646.1,402.7 644.1,403 642.1,403.2 C640.1,403.5 638.2,403.8 636.2,404.1 C634.2,404.4 632.2,404.7 630.3,405.1 C628.3,405.5 626.4,405.9 624.4,406.3 C622.4,406.8 620.5,407.2 618.5,407.7 C616.6,408.1 614.6,408.6 612.7,409.1 C610.8,409.5 608.8,410 606.9,410.5 C605,411 603,411.6 601.1,412.2 C599.2,412.8 597.4,413.5 595.5,414.2 C593.6,414.9 591.8,415.7 589.9,416.4 C588,417 586.1,417.7 584.2,418.3 C582.3,418.9 580.4,419.5 578.5,420.1 C576.6,420.7 574.7,421.2 572.8,421.9 C570.9,422.5 569,423.1 567.1,423.8 C565.2,424.5 563.4,425.3 561.6,426.1 C559.8,427 558,427.9 556.2,428.8 C554.5,429.7 552.7,430.7 550.9,431.6 C549.2,432.6 547.4,433.5 545.6,434.5 C543.9,435.4 542.1,436.4 540.4,437.3 C538.6,438.3 536.9,439.3 535.1,440.3 C533.4,441.2 531.7,442.3 529.9,443.3 C528.2,444.3 526.8,445.1 524.8,446.3 C522.8,447.5 519.9,449.2 517.9,450.4 C515.9,451.6 514.4,452.5 512.7,453.5 C511,454.6 509.3,455.6 507.7,456.7 C506,457.8 504.3,459 502.7,460.1 C501.1,461.3 499.4,462.4 497.8,463.6 C496.2,464.8 494.6,466 493,467.2 C491.4,468.3 489.8,469.5 488.1,470.7 C486.5,471.9 484.9,473.1 483.3,474.3 C481.7,475.4 480,476.6 478.4,477.7 C476.8,478.9 475.1,480 473.5,481.2 C471.8,482.3 470.1,483.4 468.5,484.5 C466.8,485.6 465.2,486.7 463.5,487.9 C461.8,489 460.2,490.1 458.5,491.2 C456.8,492.3 455.2,493.4 453.5,494.5 C451.8,495.6 450.2,496.8 448.5,497.9 C446.8,499 445.2,500.1 443.5,501.2 C441.8,502.3 440.2,503.4 438.5,504.5 C436.9,505.6 435.2,506.8 433.5,507.9 C431.9,509 430.2,510.1 428.5,511.2 C426.9,512.4 425.3,513.5 423.7,514.7 C422.1,515.9 420.6,517.2 419.1,518.6 C417.7,519.9 416.3,521.4 415,522.8 C413.7,524.3 412.3,525.8 411.1,527.4 C409.8,528.9 408.6,530.5 407.4,532.1 C406.2,533.7 404.6,536.2 404,537" stroke="#38abdc" stroke-width="1.9" fill="none"/>
<path d="M450.5,537 C451.2,536.3 453.4,534.3 454.9,532.9 C456.4,531.6 457.9,530.3 459.5,529.1 C461.1,527.8 462.7,526.6 464.2,525.4 C465.8,524.1 467.4,522.9 469,521.7 C470.6,520.5 472.2,519.3 473.8,518.1 C475.5,516.9 477.1,515.8 478.8,514.7 C480.5,513.7 482.2,512.7 484,511.7 C485.7,510.7 487.5,509.7 489.3,508.8 C491,507.8 492.8,506.9 494.6,506 C496.4,505 498.1,504.1 499.9,503.1 C501.7,502.2 503.5,501.2 505.2,500.3 C507,499.3 508.8,498.4 510.6,497.5 C512.3,496.5 514.1,495.6 515.9,494.6 C517.6,493.7 519.4,492.7 521.2,491.8 C523,490.9 524.7,489.9 526.5,489 C528.3,488 530.1,487.1 531.8,486.1 C533.6,485.2 535.4,484.3 537.2,483.3 C538.9,482.4 540.7,481.4 542.5,480.5 C544.3,479.5 546,478.6 547.8,477.7 C549.6,476.7 551.3,475.8 553.1,474.8 C554.9,473.9 556.7,472.9 558.5,472.1 C560.3,471.2 561.7,470.4 563.9,469.5 C566.1,468.6 569.2,467.5 571.4,466.7 C573.6,465.9 575.2,465.5 577.1,464.9 C579.1,464.3 581,463.7 582.9,463.2 C584.8,462.6 586.8,462 588.7,461.5 C590.6,460.9 592.6,460.4 594.5,459.9 C596.4,459.4 598.4,458.9 600.3,458.4 C602.3,457.9 604.2,457.4 606.2,457 C608.2,456.6 610.1,456.2 612.1,456 C614.1,455.7 616.1,455.5 618.1,455.4 C620.1,455.2 622.1,455.2 624.1,455.1 C626.1,455 628.1,455 630.1,454.9 C632.1,454.9 634.1,454.8 636.1,454.8 C638.1,454.8 640.1,454.8 642.1,454.9 C644.1,455 646.1,455.2 648.1,455.4 C650.1,455.6 652.1,455.9 654.1,456.2 C656.1,456.5 658.1,456.8 660,457.1 C662,457.5 664,457.8 665.8,458.3 C667.7,458.9 669.6,459.5 671.3,460.4 C673.1,461.2 674.8,462.3 676.2,463.5 C677.6,464.7 679,466.1 680,467.6 C680.9,469.1 681.4,470.8 681.7,472.6 C681.9,474.3 681.5,477.1 681.5,478" stroke="#1e3cb2" stroke-width="1.9" fill="none"/><path d="M664,496 C663.2,496.5 660.6,498.2 658.9,499.2 C657.2,500.3 655.8,501.1 653.7,502.2 C651.6,503.3 648.6,504.8 646.5,505.9 C644.4,507 642.9,507.7 641.2,508.7 C639.4,509.7 637.7,510.7 635.9,511.7 C634.2,512.8 632.5,513.8 630.8,514.9 C629.1,516 627.5,517.1 625.8,518.3 C624.2,519.5 622.8,520.4 621,521.9 C619.3,523.5 616.9,525.8 615.3,527.5 C613.7,529.2 612.7,530.5 611.5,532.1 C610.3,533.7 608.6,536.2 608,537" stroke="#1e3cb2" stroke-width="1.9" fill="none"/>
<path d="M733,537 C733.8,536.3 736.3,534.3 738,533 C739.7,531.7 741.4,530.4 743,529 C744.7,527.7 746.4,526.4 748.1,525.1 C749.7,523.7 752.2,521.7 753,521" stroke="#38abdc" stroke-width="1.9" fill="none"/>
<path d="M517.4,22 C516.6,22.7 514.4,24.6 512.8,25.9 C511.3,27.3 509.8,28.6 508.3,29.9 C506.8,31.3 505.3,32.6 503.9,34 C502.4,35.3 500.9,36.7 499.5,38.1 C498,39.5 496.5,40.8 495.1,42.2 C493.7,43.7 492.3,45.1 491,46.6 C489.7,48.1 488.5,49.7 487.3,51.3 C486.2,53 485.2,54.7 484.1,56.4 C483.1,58.1 482.2,59.9 481.3,61.7 C480.4,63.5 479.5,65.3 478.7,67.1 C477.9,69 477.1,70.8 476.4,72.7 C475.6,74.5 474.8,76.4 474.1,78.2 C473.4,80.1 472.6,82 471.9,83.9 C471.2,85.7 470.5,87.6 469.9,89.5 C469.3,91.4 468.7,93.4 468.1,95.3 C467.5,97.2 467,99.1 466.5,101.1 C465.9,103 465.4,104.9 464.9,106.9 C464.5,108.8 464,110.8 463.6,112.8 C463.2,114.7 462.8,116.7 462.5,118.7 C462.2,120.7 462,122.6 461.7,124.6 C461.5,126.6 461.3,128.6 461.1,130.6 C460.9,132.6 460.8,134.6 460.7,136.6 C460.5,138.6 460.4,140.6 460.4,142.6 C460.3,144.6 460.3,146.6 460.3,148.6 C460.4,150.6 460.5,152.6 460.6,154.6 C460.8,156.6 461,158.6 461.2,160.6 C461.4,162.6 461.6,164.6 461.9,166.6 C462.2,168.6 462.6,170.6 463,172.5 C463.4,174.5 463.8,176.5 464.2,178.4 C464.7,180.4 465.1,182.3 465.6,184.3 C466,186.2 466.5,188.2 467,190.1 C467.5,192.1 468.2,195 468.4,196" stroke="#d9270f" stroke-width="1.9" fill="none"/><path d="M449,230 C448,230.3 445.2,231.2 443.2,231.6 C441.3,232 439.4,232.3 437.4,232.4 C435.5,232.5 433.5,232.3 431.5,232.2 C429.6,232 427.6,231.6 425.6,231.3 C423.6,231 421.7,230.7 419.7,230.4 C417.7,230.1 415.7,229.7 413.8,229.6 C411.8,229.4 409.8,229.3 407.8,229.4 C405.8,229.4 403.8,229.7 401.9,229.9 C399.9,230.2 397.9,230.5 396,231.1 C394.1,231.6 392.3,232.2 390.4,233 C388.6,233.8 386.8,234.7 385.1,235.7 C383.4,236.6 381.7,237.7 380.2,238.9 C378.6,240.1 377.1,241.5 375.7,242.9 C374.2,244.2 372.8,245.7 371.5,247.1 C370.1,248.6 368.8,250.1 367.6,251.7 C366.4,253.3 365.3,254.9 364.3,256.6 C363.2,258.3 362.2,260 361.2,261.8 C360.2,263.5 359.3,265.3 358.4,267.1 C357.5,268.9 356.7,270.7 355.9,272.5 C355,274.3 354.3,276.2 353.5,278 C352.8,279.9 352,281.7 351.3,283.6 C350.5,285.5 349.8,287.3 349.1,289.2 C348.3,291.1 347.6,292.9 346.9,294.8 C346.2,296.7 345.5,298.5 344.8,300.4 C344.1,302.3 343.4,304.2 342.7,306.1 C342,307.9 341.4,309.8 340.7,311.7 C340,313.6 339.3,315.5 338.7,317.4 C338,319.2 337.2,321.1 336.5,323 C335.8,324.9 335,326.7 334.3,328.6 C333.6,330.4 332.9,332.3 332.2,334.2 C331.5,336.1 330.8,337.9 330.1,339.8 C329.4,341.7 328.8,343.6 328.1,345.5 C327.4,347.4 326.8,349.3 326.1,351.2 C325.5,353.1 324.9,355 324.2,356.9 C323.6,358.8 323,360.7 322.3,362.6 C321.7,364.5 321,366.4 320.4,368.2 C319.7,370.1 319.1,372 318.4,373.9 C317.7,375.8 317,377.7 316.3,379.5 C315.6,381.4 314.9,383.3 314.2,385.2 C313.5,387 312.8,388.9 312.1,390.8 C311.4,392.7 310.7,394.5 310,396.4 C309.3,398.3 308.6,400.2 307.9,402 C307.2,403.9 306.5,405.8 305.8,407.7 C305.1,409.5 304.4,411.4 303.7,413.3 C303,415.2 302.3,417.1 301.7,419 C301,420.8 300.3,422.7 299.7,424.6 C299,426.5 298.3,428.4 297.6,430.3 C296.9,432.1 296.2,434 295.5,435.9 C294.8,437.8 294.1,439.6 293.5,441.5 C292.9,443.4 292.3,445.4 291.7,447.3 C291.1,449.2 290.5,451.1 290,453 C289.4,454.9 288.8,456.9 288.3,458.8 C287.8,460.7 287.4,462.7 286.9,464.6 C286.5,466.6 286,468.5 285.6,470.5 C285.2,472.5 284.8,474.4 284.5,476.4 C284.2,478.4 283.8,480.3 283.6,482.3 C283.4,484.3 283.1,486.3 283.1,488.3 C283.1,490.2 283,492.3 283.5,494 C283.9,495.7 284.6,497.5 285.7,498.5 C286.7,499.5 288.3,499.9 289.8,499.8 C291.3,499.7 293.1,498.8 294.7,497.9 C296.2,497 297.7,495.6 299.2,494.2 C300.6,492.9 301.9,491.4 303.3,489.9 C304.6,488.5 306.1,487.1 307.5,485.7 C309,484.4 310.5,483.1 312,481.8 C313.6,480.5 315.1,479.2 316.6,477.9 C318.2,476.6 319.7,475.3 321.1,474 C322.6,472.6 324,471.2 325.4,469.7 C326.7,468.3 328.1,466.8 329.4,465.3 C330.8,463.8 332.1,462.3 333.5,460.8 C334.8,459.3 336.1,457.9 337.4,456.4 C338.8,454.8 340.1,453.3 341.4,451.8 C342.7,450.3 344,448.7 345.2,447.2 C346.5,445.6 347.7,444 348.9,442.5 C350.2,440.9 351.5,439.4 352.8,437.8 C354,436.3 355.3,434.8 356.7,433.3 C358,431.8 359.4,430.4 360.8,429 C362.3,427.6 363.8,426.3 365.3,425.1 C366.9,423.8 368.4,422.5 370,421.3 C371.6,420 373.1,418.8 374.7,417.5 C376.3,416.3 377.8,415 379.4,413.8 C381,412.6 382.6,411.3 384.1,410.1 C385.7,408.9 387.3,407.7 388.9,406.4 C390.5,405.2 392.1,404 393.6,402.7 C395.2,401.5 396.7,400.2 398.2,398.9 C399.7,397.5 401.2,396.2 402.6,394.8 C404,393.4 405.4,392 406.9,390.5 C408.3,389.1 409.7,387.7 411.1,386.3 C412.5,384.9 413.9,383.5 415.4,382 C416.8,380.6 418.2,379.2 419.6,377.8 C421,376.4 422.4,375 423.9,373.5 C425.3,372.1 426.7,370.7 428.1,369.3 C429.5,367.9 430.9,366.5 432.4,365.1 C433.8,363.7 435.2,362.3 436.7,360.9 C438.1,359.5 439.5,358.1 441,356.7 C442.4,355.3 443.9,353.9 445.3,352.6 C446.8,351.2 448.3,349.8 449.7,348.5 C451.2,347.1 452.7,345.8 454.2,344.5 C455.7,343.2 457.2,341.8 458.8,340.5 C460.3,339.2 461.8,337.9 463.3,336.7 C464.9,335.4 466.4,334.1 468.1,333 C469.7,331.8 471.4,330.7 473.1,329.7 C474.7,328.6 476.5,327.6 478.2,326.5 C479.9,325.5 481.6,324.5 483.3,323.4 C485,322.4 486.8,321.4 488.5,320.4 C490.2,319.3 491.9,318.3 493.7,317.4 C495.4,316.4 497.2,315.5 499,314.6 C500.8,313.7 502.6,312.9 504.4,312 C506.2,311.2 508.1,310.3 509.9,309.5 C511.7,308.6 513.5,307.8 515.3,306.9 C517.1,306 518.9,305.2 520.7,304.2 C522.4,303.3 524.1,302.3 525.8,301.2 C527.5,300.2 529.2,299 530.8,297.9 C532.5,296.8 534.1,295.6 535.8,294.5 C537.4,293.3 539,292.2 540.7,291.1 C542.4,289.9 544,288.8 545.7,287.8 C547.4,286.7 549.2,285.8 550.9,284.8 C552.7,283.9 554.5,283 556.3,282.1 C558.1,281.2 559.9,280.3 561.6,279.4 C563.4,278.5 565.2,277.6 567,276.7 C568.9,275.9 570.7,275.1 572.5,274.4 C574.4,273.7 576.3,273.1 578.2,272.6 C580.2,272.1 582.1,271.6 584.1,271.3 C586,270.9 588,270.6 590,270.4 C592,270.2 594,270.1 596,270 C598,269.9 600,269.8 602,269.6 C603.9,269.5 605.9,269.3 607.9,269.1 C609.9,268.9 611.9,268.7 613.9,268.4 C615.9,268.1 617.8,267.8 619.8,267.4 C621.8,267 623.7,266.6 625.7,266.2 C627.7,265.8 629.6,265.5 631.6,265 C633.5,264.5 635.4,264.1 637.3,263.4 C639.2,262.8 641,262 642.9,261.2 C644.7,260.4 646.5,259.5 648.2,258.5 C649.9,257.6 651.7,256.6 653.3,255.4 C654.9,254.3 656.4,253 657.9,251.6 C659.3,250.3 660.7,248.8 662,247.3 C663.3,245.8 664.5,244.3 665.7,242.6 C666.8,241 667.9,239.3 668.8,237.6 C669.8,235.8 670.6,234 671.3,232.2 C672.1,230.3 672.8,228.4 673.4,226.5 C674,224.6 674.6,222.7 675.1,220.8 C675.6,218.8 676,216.9 676.5,214.9 C677,213 677.5,211.1 678,209.1 C678.5,207.2 679,205.3 679.6,203.3 C680.1,201.4 680.7,199.5 681.2,197.6 C681.8,195.6 682.4,193.7 682.9,191.8 C683.5,189.9 684,187.9 684.5,186 C685,184.1 685.5,182.1 685.9,180.2 C686.4,178.2 686.8,176.3 687.3,174.3 C687.7,172.4 688.1,170.4 688.6,168.5 C689,166.5 689.5,164.6 690,162.6 C690.5,160.7 691,158.8 691.6,156.8 C692.2,154.9 692.8,153 693.4,151.1 C694,149.2 694.7,147.3 695.3,145.4 C695.9,143.5 696.5,141.6 697.2,139.7 C697.8,137.8 698.3,135.9 698.9,134 C699.5,132.1 700.1,130.1 700.8,128.2 C701.4,126.4 702.1,124.5 702.8,122.6 C703.5,120.7 704.3,118.9 705.1,117.1 C705.9,115.2 707.2,112.5 707.6,111.6" stroke="#d9270f" stroke-width="1.9" fill="none"/><path d="M724.6,73.1 C725,72.1 726.2,69.3 727,67.4 C727.8,65.5 728.5,63.9 729.5,61.7 C730.4,59.5 731.7,56.3 732.6,54 C733.4,51.8 734,50.1 734.6,48.2 C735.2,46.2 735.6,44.5 736.2,42.2 C736.8,39.9 737.6,36.5 738.2,34.2 C738.7,31.8 739.1,30.1 739.5,28.1 C739.8,26.1 740.3,23 740.5,22" stroke="#d9270f" stroke-width="1.9" fill="none"/><path d="M536,131.5 C536.7,130.8 538.9,128.8 540.2,127.3 C541.5,125.8 542.7,124.1 543.9,122.5 C545.1,120.9 546.3,119.2 547.6,117.7 C548.8,116.1 549.9,114.8 551.5,113 C553.1,111.3 555.5,108.9 557.2,107.3 C559,105.6 560.2,104.5 561.8,103.3 C563.4,102 565.1,100.9 566.8,99.8 C568.5,98.8 570.3,97.8 572.2,97.2 C574,96.5 576,96 577.9,95.9 C579.8,95.7 581.8,95.9 583.6,96.4 C585.5,96.9 587.1,97.5 589,98.7 C590.9,99.9 593.5,102.1 595.2,103.7 C596.9,105.3 597.9,106.7 599,108.4 C600.2,110 601.3,111.7 602.3,113.5 C603.3,115.3 604.2,117.1 605,118.9 C605.9,120.8 607.1,123.6 607.5,124.5" stroke="#d9270f" stroke-width="1.9" fill="none"/><path d="M611.1,166.7 C610.9,167.7 610.1,170.6 609.6,172.6 C609.1,174.5 608.7,176.5 608.1,178.4 C607.6,180.4 607,182.3 606.3,184.2 C605.6,186 604.7,187.8 603.8,189.6 C602.9,191.4 601.9,193.1 600.8,194.8 C599.8,196.5 598.7,198.3 597.6,199.9 C596.4,201.5 595.2,203 593.8,204.4 C592.3,205.7 590.7,206.9 589.1,208 C587.4,209.1 585.7,210.2 584,211.2 C582.2,212.2 580.5,213.1 578.6,213.9 C576.8,214.7 574.9,215.3 573,215.9 C571.1,216.4 569.1,216.9 567.1,217.2 C565.2,217.6 563.5,217.9 561.2,218 C558.9,218 555.6,217.7 553.2,217.5 C550.9,217.3 549.2,217 547.3,216.5 C545.4,216.1 543.5,215.6 541.6,214.8 C539.8,214.1 538,213.1 536.3,212.1 C534.6,211.2 532.9,210.1 531.3,208.9 C529.7,207.7 528.1,206.4 526.7,205 C525.3,203.6 524,202.1 522.9,200.5 C521.7,198.9 520.6,197.2 519.7,195.5 C518.8,193.7 518.1,191.9 517.6,190 C517.1,188.1 516.8,186.1 516.6,184.1 C516.3,182.2 516.2,180.1 516,178.1 C515.9,176.1 515.8,174.1 515.8,172.1 C515.8,170.1 515.8,168.1 515.8,166 C515.9,164 516,161 516,160" stroke="#d9270f" stroke-width="1.9" fill="none"/>
<path d="M661,53.1 C660.9,54.1 660.4,57.2 660.3,59.2 C660.2,61.2 660.3,63.3 660.5,65.3 C660.7,67.3 661,69.4 661.4,71.3 C661.7,73.3 662,75.5 662.9,77.2 C663.7,79 664.8,80.6 666.4,81.6 C667.9,82.6 670.2,83.3 672,83.3 C673.8,83.3 675.6,82.6 677.2,81.6 C678.9,80.6 680.4,79 681.7,77.5 C683,76 684,74.2 685,72.4 C686.1,70.7 687.1,68.9 687.9,67 C688.7,65.2 689.3,63.2 690,61.3 C690.6,59.3 691.3,57.4 691.7,55.4 C692.1,53.4 692.4,51.3 692.2,49.4 C691.9,47.4 690.7,44.6 690.4,43.7" stroke="#d9270f" stroke-width="1.9" fill="none"/><path d="M367.8,317.9 C368.7,317.5 371.5,316.2 373.4,315.8 C375.3,315.4 377.3,315.2 379.2,315.5 C381.1,315.8 383,316.5 384.6,317.5 C386.2,318.6 387.6,320.2 388.9,321.7 C390.1,323.2 391.3,324.8 392.1,326.6 C392.9,328.3 393.2,330.4 393.6,332.3 C394.1,334.3 394.6,336.3 394.8,338.2 C395,340.2 394.9,342.2 394.7,344.2 C394.6,346.2 394.2,348.2 393.9,350.2 C393.6,352.2 393.2,354.1 392.7,356.1 C392.3,358.1 392,360.1 391.3,361.9 C390.6,363.8 389.6,365.5 388.6,367.3 C387.6,369 386.5,370.7 385.5,372.4 C384.4,374.1 383.7,375.7 382.3,377.6 C380.8,379.4 378.6,381.8 376.9,383.5 C375.3,385.1 373.8,386 372.3,387.3 C370.8,388.6 369.2,390 367.7,391.2 C366.1,392.4 364.5,393.7 362.8,394.8 C361.1,395.9 359.3,396.8 357.6,397.8 C355.9,398.8 354.1,399.8 352.3,400.7 C350.5,401.7 348.5,403 347,403.2 C345.4,403.5 343.9,403.1 342.8,402 C341.8,400.9 341.2,398.5 340.5,396.7 C339.9,394.8 339.3,392.8 338.9,390.9 C338.6,388.9 338.4,386.9 338.5,384.9 C338.6,382.9 339.1,380.9 339.5,379 C339.8,377 340.2,375 340.7,373.1 C341.3,371.1 342,369.3 342.8,367.4 C343.5,365.6 344.4,363.7 345.2,361.9 C346,360.1 347.3,357.3 347.7,356.4" stroke="#d9270f" stroke-width="1.9" fill="none"/>
<path d="M107.9,492.6 L230,309.1 M243.3,289.1 L788.6,-530.2" stroke="#000" stroke-width="1.3" stroke-dasharray="5 6" fill="none"/>
<path d="M107.9,528.5 L250.7,359.1 M266.1,340.7 L788.6,-279" stroke="#000" stroke-width="1.3" stroke-dasharray="5 6" fill="none"/>
<path d="M107.9,562.8 L285.1,406.1 M303.1,390.2 L788.6,-38.9" stroke="#000" stroke-width="1.3" stroke-dasharray="5 6" fill="none"/>
<path d="M107.9,577.8 L291.5,439.9 M310.7,425.4 L788.6,66.4" stroke="#000" stroke-width="1.3" stroke-dasharray="5 6" fill="none"/>
<path d="M107.9,590 L299.1,466.8 M319.3,453.9 L788.6,151.7" stroke="#000" stroke-width="1.3" stroke-dasharray="5 6" fill="none"/>
<path d="M107.9,599.1 L322,478.5 M342.9,466.7 L788.6,215.6" stroke="#000" stroke-width="1.3" stroke-dasharray="5 6" fill="none"/>
<path d="M107.9,606.2 L346,487 M367.5,476.2 L788.6,265.3" stroke="#000" stroke-width="1.3" stroke-dasharray="5 6" fill="none"/>
<path d="M107.9,611.9 L369.1,494.2 M400.1,480.2 L788.6,305.1" stroke="#000" stroke-width="1.3" stroke-dasharray="5 6" fill="none"/>
<path d="M107.9,616.6 L392.2,500.1 M423.6,487.2 L788.6,337.6" stroke="#000" stroke-width="1.3" stroke-dasharray="5 6" fill="none"/>
<path d="M107.9,620.4 L417.7,504.1 M449.5,492.1 L788.6,364.7" stroke="#000" stroke-width="1.3" stroke-dasharray="5 6" fill="none"/>
<path d="M363.4,282.3 C365.4,282.3 367.3,282.4 369.2,282.8 C371.1,283.2 373,283.8 374.7,284.6 C376.5,285.4 378.2,286.5 379.7,287.6 C381.2,288.8 382.7,290.2 384,291.7 C385.3,293.1 386.4,294.7 387.5,296.4 C388.6,298 389.6,299.8 390.4,301.6 C391.3,303.3 392.1,305.2 392.8,307 C393.5,308.9 394.1,310.8 394.7,312.7 C395.3,314.6 395.8,316.6 396.3,318.5 C396.9,320.4 397.5,322.3 398.1,324.2 C398.8,326.1 399.5,327.9 400.3,329.8 C401,331.6 401.8,333.5 402.5,335.3 C403.2,337.2 403.9,339 404.5,340.9 C405.1,342.8 405.6,344.8 406,346.7 C406.5,348.7 406.9,350.6 407.3,352.6 C407.7,354.6 408.1,356.5 408.5,358.5 C408.9,360.4 409.3,362.4 409.6,364.4 C410,366.3 410.4,368.3 410.8,370.3 C411.2,372.2 411.6,374.2 412,376.2 C412.4,378.1 412.7,380.1 413.1,382.1 C413.4,384 413.8,386 414.1,388 C414.4,389.9 414.8,391.9 415.1,393.9 C415.4,395.9 415.7,397.9 415.9,399.8 C416.2,401.8 416.5,403.8 416.7,405.8 C416.9,407.8 417.1,409.8 417.3,411.8 C417.5,413.8 417.8,415.8 418,417.7 C418.2,419.7 418.3,421.7 418.5,423.7 C418.7,425.7 418.9,427.7 419.1,429.7 C419.3,431.7 419.5,433.7 419.7,435.7 C419.9,437.7 420,439.7 420.2,441.7 C420.4,443.7 420.6,445.7 420.7,447.6 C420.9,449.6 421,451.6 421.1,453.6 C421.2,455.6 421.3,457.6 421.4,459.6 C421.5,461.6 421.6,463.6 421.7,465.6 C421.8,467.6 421.9,469.6 422,471.6 C422.1,473.6 422.1,475.6 422.2,477.6 C422.3,479.6 422.4,481.6 422.5,483.6 C422.6,485.6 422.7,487.6 422.7,489.6 C422.8,491.6 422.9,493.6 423,495.6 C423,497.6 423.1,499.6 423.2,501.6 C423.2,503.6 423.3,505.6 423.3,507.6 C423.3,509.6 423.4,511.6 423.2,513.6 C423.1,515.6 422.9,517.5 422.4,519.4 C422,521.3 421.4,523.2 420.5,524.8 C419.6,526.4 418.5,527.8 417.2,529 C415.8,530.2 414.1,531 412.4,531.7 C410.6,532.4 408.7,532.7 406.7,533 C404.8,533.2 402.8,533.3 400.8,533.3 C398.9,533.3 396.8,533.3 394.9,533.1 C392.9,533 390.9,532.8 389,532.4 C387.1,532.1 385.2,531.5 383.3,530.9 C381.4,530.3 379.5,529.6 377.7,528.9 C375.8,528.2 373.9,527.4 372.1,526.7 C370.2,525.9 368.4,525.2 366.5,524.5 C364.6,523.7 362.8,523 360.9,522.4 C359,521.7 357.1,521.1 355.2,520.5 C353.3,519.8 351.4,519.3 349.4,518.7 C347.5,518.2 345.6,517.6 343.7,517 C341.8,516.4 339.9,515.7 338,515 C336.2,514.3 334.3,513.5 332.5,512.7 C330.7,512 328.8,511.1 327,510.3 C325.2,509.5 323.4,508.6 321.6,507.8 C319.7,507 317.9,506.2 316,505.4 C314.2,504.6 312.4,503.8 310.5,503.1 C308.7,502.3 306.8,501.5 305,500.7 C303.1,500 301.3,499.2 299.4,498.4 C297.6,497.6 295.7,496.9 293.9,496.1 C292.1,495.3 290.2,494.5 288.4,493.7 C286.6,492.9 284.7,492.1 282.9,491.2 C281.1,490.4 279.3,489.5 277.5,488.6 C275.7,487.7 274,486.8 272.2,485.8 C270.5,484.9 268.7,483.8 267,482.8 C265.3,481.8 263.6,480.8 261.9,479.7 C260.1,478.7 258.4,477.7 256.7,476.7 C255,475.6 253.3,474.6 251.5,473.6 C249.8,472.6 248.1,471.6 246.3,470.6 C244.6,469.7 242.8,468.7 241,467.8 C239.3,466.8 237.5,465.9 235.8,464.9 C234,463.9 232.3,462.9 230.6,461.9 C228.9,460.8 227.2,459.8 225.5,458.7 C223.8,457.6 222.2,456.5 220.6,455.3 C218.9,454.1 217.3,453 215.8,451.7 C214.2,450.5 212.7,449.1 211.3,447.8 C209.8,446.4 208.4,445 207.1,443.6 C205.7,442.1 204.4,440.6 203.4,439 C202.4,437.4 201.4,435.7 200.9,433.9 C200.3,432.1 200,430.2 200,428.3 C199.9,426.4 200.1,424.4 200.4,422.4 C200.7,420.5 201.2,418.6 201.8,416.7 C202.4,414.8 203.2,413 204,411.2 C204.8,409.4 205.8,407.6 206.7,405.9 C207.6,404.1 208.6,402.4 209.7,400.6 C210.7,398.9 211.7,397.2 212.8,395.5 C213.8,393.8 214.9,392.2 216,390.5 C217.2,388.8 218.3,387.2 219.4,385.5 C220.6,383.9 221.8,382.3 223.1,380.8 C224.3,379.2 225.6,377.7 226.9,376.2 C228.3,374.7 229.6,373.2 231,371.8 C232.3,370.3 233.7,368.8 235.1,367.4 C236.5,366 238,364.6 239.4,363.2 C240.9,361.8 242.3,360.5 243.8,359.1 C245.3,357.8 246.8,356.4 248.2,355.1 C249.7,353.8 251.2,352.4 252.7,351.1 C254.2,349.8 255.7,348.4 257.2,347.1 C258.7,345.8 260.2,344.5 261.8,343.2 C263.3,341.9 264.8,340.5 266.3,339.3 C267.9,338 269.4,336.7 271,335.5 C272.6,334.3 274.2,333.2 275.9,332.1 C277.6,331 279.3,330 281,328.9 C282.7,327.8 284.4,326.8 286.1,325.8 C287.8,324.7 289.5,323.7 291.1,322.5 C292.8,321.4 294.4,320.3 296,319.1 C297.7,317.9 299.2,316.6 300.8,315.4 C302.3,314.2 303.9,312.9 305.4,311.6 C307,310.4 308.6,309.1 310.1,307.9 C311.7,306.7 313.4,305.5 315,304.4 C316.6,303.3 318.3,302.2 320,301.1 C321.7,300.1 323.4,299 325.2,298 C326.9,297 328.6,295.9 330.3,294.9 C332,293.9 333.7,292.9 335.5,291.9 C337.2,290.9 339,290 340.8,289.1 C342.6,288.2 344.4,287.4 346.2,286.6 C348.1,285.9 350,285.1 351.8,284.5 C353.7,283.9 355.7,283.4 357.6,283 C359.5,282.6 361.5,282.3 363.4,282.3Z" fill="#000" fill-opacity="0.385"/>
<path d="M654,230.7 C655.8,230.5 657.6,230.7 659.4,231.1 C661.2,231.6 662.9,232.5 664.6,233.4 C666.3,234.4 667.9,235.6 669.5,236.8 C671.1,238 672.6,239.2 674.1,240.5 C675.6,241.8 677.1,243.2 678.5,244.6 C679.9,246.1 681.2,247.6 682.4,249.1 C683.7,250.6 684.9,252.2 686.1,253.9 C687.3,255.5 688.4,257.1 689.5,258.8 C690.6,260.4 691.7,262.1 692.7,263.8 C693.8,265.6 694.8,267.3 695.8,269 C696.7,270.8 697.7,272.5 698.6,274.3 C699.5,276.1 700.3,277.9 701.1,279.7 C702,281.5 702.7,283.4 703.5,285.2 C704.3,287.1 705.1,288.9 705.9,290.8 C706.7,292.6 707.4,294.4 708.2,296.3 C709,298.1 709.8,300 710.5,301.8 C711.3,303.7 712.1,305.5 712.9,307.4 C713.6,309.2 714.4,311.1 715.2,312.9 C715.9,314.8 716.7,316.6 717.4,318.5 C718.2,320.3 719,322.2 719.7,324 C720.5,325.9 721.3,327.7 722,329.6 C722.7,331.4 723.4,333.3 724,335.2 C724.7,337.1 725.2,339 725.6,340.9 C726.1,342.9 726.4,344.8 726.8,346.8 C727.1,348.8 727.5,350.8 727.8,352.7 C728.1,354.7 728.4,356.7 728.7,358.7 C729,360.6 729.2,362.6 729.5,364.6 C729.7,366.6 729.9,368.6 730.1,370.6 C730.4,372.6 730.6,374.6 730.7,376.6 C730.9,378.5 731.1,380.5 731.2,382.5 C731.3,384.5 731.4,386.5 731.4,388.5 C731.4,390.5 731.4,392.5 731.3,394.5 C731.3,396.5 731.2,398.5 731.1,400.5 C731,402.5 730.8,404.5 730.6,406.5 C730.3,408.4 730,410.4 729.5,412.3 C729.1,414.3 728.6,416.2 728.1,418.2 C727.6,420.1 727.1,422 726.5,423.9 C726,425.8 725.4,427.8 724.7,429.6 C724,431.4 723.2,433.2 722.2,435 C721.3,436.8 720.3,438.4 719.2,440.1 C718.1,441.8 717,443.5 715.8,445.1 C714.7,446.7 713.5,448.3 712.2,449.7 C710.8,451.2 709.4,452.6 707.9,453.9 C706.5,455.2 704.9,456.4 703.3,457.7 C701.7,458.9 700.1,460.1 698.5,461.3 C696.9,462.5 695.3,463.7 693.7,464.9 C692.1,466 690.5,467.2 688.8,468.3 C687.2,469.5 685.5,470.5 683.8,471.6 C682.1,472.6 680.3,473.6 678.6,474.5 C676.8,475.5 675.1,476.5 673.3,477.4 C671.5,478.4 669.8,479.3 668,480.2 C666.2,481 664.4,481.9 662.5,482.6 C660.7,483.4 658.8,484 656.9,484.7 C655,485.3 653.1,485.9 651.2,486.5 C649.3,487.1 647.4,487.7 645.4,488.3 C643.5,488.8 641.6,489.4 639.7,489.8 C637.7,490.3 635.8,490.7 633.8,491 C631.8,491.3 629.9,491.5 627.9,491.7 C625.9,491.9 623.9,492.1 621.9,492.2 C619.9,492.3 617.9,492.4 616,492.2 C614,492.1 612.1,491.8 610.2,491.4 C608.2,491 606.3,490.4 604.4,489.8 C602.6,489.2 600.7,488.5 598.9,487.7 C597.2,486.8 595.5,485.9 593.9,484.7 C592.3,483.6 590.8,482.3 589.4,480.9 C588,479.6 586.7,478.1 585.5,476.5 C584.4,475 583.5,473.3 582.7,471.5 C581.9,469.8 581.4,467.9 580.9,466 C580.4,464.1 580,462.1 579.6,460.1 C579.2,458.2 578.8,456.2 578.5,454.3 C578.2,452.3 577.9,450.3 577.7,448.3 C577.5,446.4 577.5,444.4 577.4,442.4 C577.4,440.4 577.4,438.4 577.4,436.4 C577.4,434.4 577.4,432.4 577.4,430.4 C577.4,428.4 577.5,426.4 577.5,424.4 C577.6,422.4 577.6,420.4 577.7,418.4 C577.9,416.4 578,414.4 578.2,412.4 C578.4,410.4 578.6,408.4 578.8,406.4 C579,404.4 579.2,402.4 579.5,400.4 C579.7,398.5 580,396.5 580.3,394.5 C580.6,392.5 580.9,390.5 581.3,388.6 C581.6,386.6 582,384.6 582.3,382.7 C582.7,380.7 583.1,378.7 583.5,376.8 C583.9,374.8 584.3,372.9 584.7,370.9 C585.1,368.9 585.5,367 585.9,365 C586.3,363 586.7,361.1 587.1,359.1 C587.5,357.2 587.9,355.2 588.4,353.3 C588.8,351.3 589.2,349.4 589.7,347.4 C590.2,345.5 590.6,343.5 591.1,341.6 C591.6,339.6 592.1,337.7 592.7,335.8 C593.2,333.9 593.8,331.9 594.4,330 C595.1,328.2 595.8,326.3 596.5,324.4 C597.2,322.6 598.1,320.8 598.9,318.9 C599.7,317.1 600.6,315.4 601.4,313.5 C602.2,311.7 603,309.9 603.7,308 C604.3,306.1 604.9,304.2 605.6,302.3 C606.2,300.4 606.8,298.5 607.4,296.6 C608.1,294.7 608.8,292.9 609.5,291 C610.2,289.1 610.9,287.3 611.7,285.4 C612.5,283.6 613.2,281.7 614.1,279.9 C614.9,278.1 615.7,276.3 616.6,274.5 C617.5,272.7 618.4,270.9 619.3,269.1 C620.2,267.3 621.2,265.6 622.1,263.8 C623.1,262.1 624.1,260.4 625.2,258.7 C626.2,256.9 627.3,255.2 628.4,253.6 C629.5,251.9 630.6,250.2 631.7,248.6 C632.9,247 634.1,245.4 635.3,243.8 C636.6,242.3 637.9,240.7 639.3,239.3 C640.7,237.9 642.1,236.6 643.7,235.4 C645.2,234.2 646.9,233.1 648.6,232.3 C650.3,231.5 652.2,230.9 654,230.7Z" fill="#000" fill-opacity="0.385"/>
<text class="sans" x="0" y="0" font-size="15.5" text-anchor="middle" dominant-baseline="central" transform="translate(211.2,67.5) rotate(-80)">92</text>
<text class="sans" x="0" y="0" font-size="15.5" text-anchor="middle" dominant-baseline="central" transform="translate(225.5,184.7) rotate(-55)">93</text>
<text class="sans" x="0" y="0" font-size="15.5" text-anchor="middle" dominant-baseline="central" transform="translate(230.8,236.5) rotate(-62)">94</text>
<text class="sans" x="0" y="0" font-size="15.5" text-anchor="middle" dominant-baseline="central" transform="translate(227,303.5) rotate(-58)">95</text>
<text class="sans" x="0" y="0" font-size="15.5" text-anchor="middle" dominant-baseline="central" transform="translate(215.3,388.8) rotate(-68)">96</text>
<text class="sans" x="0" y="0" font-size="15.5" text-anchor="middle" dominant-baseline="central" transform="translate(227.1,423.2) rotate(-70)">97</text>
<text class="sans" x="0" y="0" font-size="15.5" text-anchor="middle" dominant-baseline="central" transform="translate(252.6,426.1) rotate(-70)">98</text>
<text class="sans" x="0" y="0" font-size="15.5" text-anchor="middle" dominant-baseline="central" transform="translate(284.5,425.5) rotate(-68)">99</text>
<text class="sans" x="0" y="0" font-size="15.5" text-anchor="middle" dominant-baseline="central" transform="translate(354.7,338) rotate(-66)">99.6</text>
<text class="sans" x="0" y="0" font-size="15.5" text-anchor="middle" dominant-baseline="central" transform="translate(460.3,216.2) rotate(-62)">99.3</text>
<text class="sans" x="0" y="0" font-size="15.5" text-anchor="middle" dominant-baseline="central" transform="translate(610.3,145.5) rotate(90)">99.3</text>
<text class="sans" x="0" y="0" font-size="15.5" text-anchor="middle" dominant-baseline="central" transform="translate(717,90.5) rotate(-68)">99.3</text>
<text class="sans" x="0" y="0" font-size="15.5" text-anchor="middle" dominant-baseline="central" transform="translate(674.7,45.2) rotate(-16)">99.6</text>
<text class="sans" x="0" y="0" font-size="15.5" text-anchor="middle" dominant-baseline="central" transform="translate(701.8,195) rotate(-73)">99</text>
<text class="sans" x="0" y="0" font-size="15.5" text-anchor="middle" dominant-baseline="central" transform="translate(716.9,276.3) rotate(-66)">98</text>
<text class="sans" x="0" y="0" font-size="15.5" text-anchor="middle" dominant-baseline="central" transform="translate(694.8,352.6) rotate(-16)">97</text>
<text class="sans" x="0" y="0" font-size="15.5" text-anchor="middle" dominant-baseline="central" transform="translate(672.2,399.2) rotate(-8)">96</text>
<text class="sans" x="0" y="0" font-size="15.5" text-anchor="middle" dominant-baseline="central" transform="translate(672.2,487.5) rotate(-32)">95</text>
<text class="sans" font-weight="bold" x="0" y="0" font-size="20" text-anchor="middle" dominant-baseline="central" transform="translate(238,300) rotate(-56.4)">30</text>
<text class="sans" font-weight="bold" x="0" y="0" font-size="20" text-anchor="middle" dominant-baseline="central" transform="translate(258.5,350) rotate(-49.9)">38</text>
<text class="sans" font-weight="bold" x="0" y="0" font-size="20" text-anchor="middle" dominant-baseline="central" transform="translate(294,398) rotate(-41.5)">51</text>
<text class="sans" font-weight="bold" x="0" y="0" font-size="20" text-anchor="middle" dominant-baseline="central" transform="translate(301.3,432.9) rotate(-36.9)">60</text>
<text class="sans" font-weight="bold" x="0" y="0" font-size="20" text-anchor="middle" dominant-baseline="central" transform="translate(309.3,460.5) rotate(-32.8)">70</text>
<text class="sans" font-weight="bold" x="0" y="0" font-size="20" text-anchor="middle" dominant-baseline="central" transform="translate(332.6,472.8) rotate(-29.4)">80</text>
<text class="sans" font-weight="bold" x="0" y="0" font-size="20" text-anchor="middle" dominant-baseline="central" transform="translate(357,482.1) rotate(-26.6)">90</text>
<text class="sans" font-weight="bold" x="0" y="0" font-size="20" text-anchor="middle" dominant-baseline="central" transform="translate(385.4,489) rotate(-24.3)">100</text>
<text class="sans" font-weight="bold" x="0" y="0" font-size="20" text-anchor="middle" dominant-baseline="central" transform="translate(408,493.9) rotate(-22.3)">110</text>
<text class="sans" font-weight="bold" x="0" y="0" font-size="20" text-anchor="middle" dominant-baseline="central" transform="translate(433.5,497.8) rotate(-20.6)">120</text>
<ellipse cx="443" cy="63.2" rx="43.5" ry="13.8" fill="#adaaa9"/>
<text class="sans" x="443.5" y="71.6" font-size="19.2" text-anchor="middle" stroke="#000" stroke-width="0.55">E38</text>
<ellipse cx="613.2" cy="63.2" rx="45.5" ry="13.6" fill="#adaaa9"/>
<text class="sans" x="613.7" y="71.6" font-size="20.8" text-anchor="middle" stroke="#000" stroke-width="0.55">P355</text>
<ellipse cx="503" cy="150" rx="50.5" ry="25.5" fill="#adaaa9"/>
<text class="sans" x="503" y="145.2" font-size="21" text-anchor="middle" stroke="#000" stroke-width="0.55">E51/</text>
<text class="sans" x="503" y="170.5" font-size="21" text-anchor="middle" stroke="#000" stroke-width="0.55">P300</text>
<ellipse cx="624.1" cy="216.5" rx="42.3" ry="12.8" fill="#adaaa9"/>
<text class="sans" x="624.6" y="224.9" font-size="19.0" text-anchor="middle" stroke="#000" stroke-width="0.55">E70</text>
<ellipse cx="426.9" cy="323.6" rx="46.3" ry="13.2" fill="#adaaa9"/>
<text class="sans" x="427.4" y="332" font-size="20.8" text-anchor="middle" stroke="#000" stroke-width="0.55">P200</text>
<path d="M372.3,296.4 L382.2,313.6 L362.4,313.6 Z" fill="#000"/>
<path d="M325,390 L334.9,407.2 L315.1,407.2 Z" fill="#000"/>
<path d="M221.2,422.4 L231.1,439.6 L211.3,439.6 Z" fill="#000"/>
<path d="M363.3,447.4 L373.2,464.6 L353.4,464.6 Z" fill="#000"/>
<path d="M372,506.4 L381.9,523.6 L362.1,523.6 Z" fill="#000"/>
<path d="M400.6,521.4 L410.5,538.6 L390.7,538.6 Z" fill="#000"/>
<path d="M655.4,230 L665.3,247.2 L645.5,247.2 Z" fill="#000"/>
<path d="M693.2,319.9 L703.1,337.1 L683.3,337.1 Z" fill="#000"/>
<path d="M711.8,395.9 L721.7,413.1 L701.9,413.1 Z" fill="#000"/>
<path d="M598.7,460.4 L608.6,477.6 L588.8,477.6 Z" fill="#000"/>
<path d="M493.5,53.2 L497,63.6 L508.4,63.6 L499.2,70.1 L502.7,80.5 L493.5,74.1 L484.3,80.5 L487.8,70.1 L478.6,63.6 L490,63.6Z" fill="#ffff00" stroke="#000" stroke-width="1" stroke-dasharray="2.4 1.1" stroke-linejoin="miter"/>
<path d="M663.7,54.2 L667.2,64.6 L678.6,64.6 L669.4,71.1 L672.9,81.5 L663.7,75.1 L654.5,81.5 L658,71.1 L648.8,64.6 L660.2,64.6Z" fill="#ffff00" stroke="#000" stroke-width="1" stroke-dasharray="2.4 1.1" stroke-linejoin="miter"/>
<path d="M561,146.9 L564.5,157.3 L575.9,157.3 L566.7,163.8 L570.2,174.2 L561,167.8 L551.8,174.2 L555.3,163.8 L546.1,157.3 L557.5,157.3Z" fill="#ffff00" stroke="#000" stroke-width="1" stroke-dasharray="2.4 1.1" stroke-linejoin="miter"/>
<path d="M663.4,215.5 L666.9,225.9 L678.3,225.9 L669.1,232.4 L672.6,242.8 L663.4,236.4 L654.2,242.8 L657.7,232.4 L648.5,225.9 L659.9,225.9Z" fill="#ffff00" stroke="#000" stroke-width="1" stroke-dasharray="2.4 1.1" stroke-linejoin="miter"/>
<path d="M372.7,312.7 L376.2,323.1 L387.6,323.1 L378.4,329.6 L381.9,340 L372.7,333.6 L363.5,340 L367,329.6 L357.8,323.1 L369.2,323.1Z" fill="#ffff00" stroke="#000" stroke-width="1" stroke-dasharray="2.4 1.1" stroke-linejoin="miter"/>
</g>
<rect x="183.5" y="23.8" width="567.3" height="511.4" fill="none" stroke="#000" stroke-width="2"/>
<line x1="183.5" y1="407.4" x2="190.5" y2="407.4" stroke="#000" stroke-width="2"/>
<line x1="183.5" y1="279.5" x2="190.5" y2="279.5" stroke="#000" stroke-width="2"/>
<line x1="183.5" y1="151.7" x2="190.5" y2="151.7" stroke="#000" stroke-width="2"/>
<line x1="372.6" y1="535.2" x2="372.6" y2="528.2" stroke="#000" stroke-width="2"/>
<line x1="561.7" y1="535.2" x2="561.7" y2="528.2" stroke="#000" stroke-width="2"/>
<text class="ser" x="174.8" y="33.5" font-size="28.5" text-anchor="end">2.5</text>
<text class="ser" x="174.8" y="162.5" font-size="28.5" text-anchor="end">2</text>
<text class="ser" x="174.8" y="289.2" font-size="28.5" text-anchor="end">1.5</text>
<text class="ser" x="174.8" y="417.7" font-size="28.5" text-anchor="end">1</text>
<text class="ser" x="174.8" y="541.6" font-size="28.5" text-anchor="end">0.5</text>
<text class="ser" x="184.5" y="568.8" font-size="28.5" text-anchor="middle">100</text>
<text class="ser" x="373.6" y="568.8" font-size="28.5" text-anchor="middle">200</text>
<text class="ser" x="562.7" y="570.8" font-size="28.5" text-anchor="middle">300</text>
<text class="ser" x="751.8" y="570.3" font-size="28.5" text-anchor="middle">400</text>
<text class="ser" x="463.2" y="600.5" font-size="28.5" text-anchor="middle">Laser Power (W)</text>
<text class="ser" x="0" y="0" font-size="27.5" text-anchor="middle" transform="translate(129.5,291) rotate(-90)">Scan Speed (m/s)</text>
<text class="ser" x="12.5" y="25.5" font-size="29.5" font-weight="bold">a</text>
<path d="M779.9,224.5 L783.5,235.2 L795.2,235.2 L785.8,241.8 L789.4,252.5 L779.9,245.9 L770.4,252.5 L774,241.8 L764.6,235.2 L776.3,235.2Z" fill="#ffff00" stroke="#000" stroke-width="0.9"/>
<text class="ser" x="795.5" y="248.7" font-size="28.5">This study</text>
<path d="M780.7,266.8 L790.7,282.9 L770.8,282.9 Z" fill="#000"/>
<text class="ser" x="796.5" y="284.2" font-size="28.5">Literature</text>
<rect x="180.0" y="675.8" width="573.5" height="20" fill="#fd8884"/>
<path d="M180.0,731 L180.0,617.5 L753.5,617.5 L753.5,731" fill="none" stroke="#000" stroke-width="2"/>
<path d="M180.0,741 L180.0,744.5 M753.5,741 L753.5,744.5" fill="none" stroke="#000" stroke-width="2"/>
<line x1="179.0" y1="744.5" x2="754.5" y2="744.5" stroke="#000" stroke-width="2"/>
<path d="M174.5,736.5 L186.5,732.5 M174.5,741.5 L186.5,737.5" stroke="#000" stroke-width="1.6" fill="none"/>
<path d="M747.5,736.5 L759.5,732.5 M747.5,741.5 L759.5,737.5" stroke="#000" stroke-width="1.6" fill="none"/>
<line x1="180.0" y1="625.2" x2="188.0" y2="625.2" stroke="#000" stroke-width="2"/>
<text class="sans" x="171.3" y="633.9" font-size="17.6" text-anchor="end">100.0</text>
<line x1="180.0" y1="659.9" x2="188.0" y2="659.9" stroke="#000" stroke-width="2"/>
<text class="sans" x="171.3" y="668.1" font-size="17.6" text-anchor="end">99.6</text>
<line x1="180.0" y1="693.5" x2="188.0" y2="693.5" stroke="#000" stroke-width="2"/>
<text class="sans" x="171.3" y="702.7" font-size="17.6" text-anchor="end">99.2</text>
<line x1="180.0" y1="727.7" x2="188.0" y2="727.7" stroke="#000" stroke-width="2"/>
<text class="sans" x="171.3" y="733.6" font-size="17.6" text-anchor="end">98.8</text>
<text class="sans" x="171.3" y="749.5" font-size="17.6" text-anchor="end">0.00</text>
<line x1="237.3" y1="744.5" x2="237.3" y2="736.5" stroke="#000" stroke-width="2"/>
<line x1="237.3" y1="646.2" x2="237.3" y2="706.6" stroke="#000" stroke-width="2"/>
<line x1="227.3" y1="646.2" x2="247.3" y2="646.2" stroke="#000" stroke-width="2"/>
<line x1="227.3" y1="706.6" x2="247.3" y2="706.6" stroke="#000" stroke-width="2"/>
<rect x="231" y="670.1" width="12.6" height="12.6" fill="#000"/>
<path d="M237.3,671.4 L237.3,689.1 M231.3,671.4 L243.3,671.4 M231.3,689.1 L243.3,689.1" stroke="#f00" stroke-width="1.6" fill="none"/>
<circle cx="237.3" cy="680.3" r="6.6" fill="#f00"/>
<text class="sans" x="237.3" y="770.4" font-size="21.5" text-anchor="middle">E38</text>
<line x1="351.8" y1="744.5" x2="351.8" y2="736.5" stroke="#000" stroke-width="2"/>
<line x1="351.8" y1="663.8" x2="351.8" y2="724.2" stroke="#000" stroke-width="2"/>
<line x1="341.8" y1="663.8" x2="361.8" y2="663.8" stroke="#000" stroke-width="2"/>
<line x1="341.8" y1="724.2" x2="361.8" y2="724.2" stroke="#000" stroke-width="2"/>
<rect x="345.5" y="687.7" width="12.6" height="12.6" fill="#000"/>
<circle cx="351.8" cy="692.3" r="6.6" fill="#f00"/>
<text class="sans" x="351.8" y="770.4" font-size="21.5" text-anchor="middle">E51/P300</text>
<line x1="466.2" y1="744.5" x2="466.2" y2="736.5" stroke="#000" stroke-width="2"/>
<line x1="466.2" y1="649.3" x2="466.2" y2="709.7" stroke="#000" stroke-width="2"/>
<line x1="456.2" y1="649.3" x2="476.2" y2="649.3" stroke="#000" stroke-width="2"/>
<line x1="456.2" y1="709.7" x2="476.2" y2="709.7" stroke="#000" stroke-width="2"/>
<rect x="459.9" y="673.2" width="12.6" height="12.6" fill="#000"/>
<circle cx="466.2" cy="692.6" r="6.6" fill="#f00"/>
<text class="sans" x="466.2" y="770.4" font-size="21.5" text-anchor="middle">E70</text>
<line x1="581.1" y1="744.5" x2="581.1" y2="736.5" stroke="#000" stroke-width="2"/>
<line x1="581.1" y1="626.6" x2="581.1" y2="687" stroke="#000" stroke-width="2"/>
<line x1="571.1" y1="626.6" x2="591.1" y2="626.6" stroke="#000" stroke-width="2"/>
<line x1="571.1" y1="687" x2="591.1" y2="687" stroke="#000" stroke-width="2"/>
<rect x="574.8" y="650.5" width="12.6" height="12.6" fill="#000"/>
<circle cx="581.1" cy="683.4" r="6.6" fill="#f00"/>
<text class="sans" x="581.1" y="770.4" font-size="21.5" text-anchor="middle">P200</text>
<line x1="695.7" y1="744.5" x2="695.7" y2="736.5" stroke="#000" stroke-width="2"/>
<line x1="695.7" y1="628.2" x2="695.7" y2="688.6" stroke="#000" stroke-width="2"/>
<line x1="685.7" y1="628.2" x2="705.7" y2="628.2" stroke="#000" stroke-width="2"/>
<line x1="685.7" y1="688.6" x2="705.7" y2="688.6" stroke="#000" stroke-width="2"/>
<rect x="689.4" y="652.1" width="12.6" height="12.6" fill="#000"/>
<path d="M695.7,682.4 L695.7,695.8 M689.7,682.4 L701.7,682.4 M689.7,695.8 L701.7,695.8" stroke="#f00" stroke-width="1.6" fill="none"/>
<circle cx="695.7" cy="689.1" r="6.6" fill="#f00"/>
<text class="sans" x="695.7" y="770.4" font-size="21.5" text-anchor="middle">P355</text>
<text class="ser" x="468.9" y="800.7" font-size="28" text-anchor="middle">Point</text>
<text class="ser" x="12" y="631.5" font-size="28" font-weight="bold">b</text>
<text class="ser" x="76" y="671.4" font-size="28.5" text-anchor="middle">Relative</text>
<text class="ser" x="76" y="698.7" font-size="28.5" text-anchor="middle">Density</text>
<text class="ser" x="76" y="726" font-size="28.5" text-anchor="middle">(%)</text>
<rect x="772.9" y="664.1" width="13" height="12.6" fill="#000"/>
<text class="ser" x="800" y="679.3" font-size="28.5">Predicted</text>
<circle cx="779.6" cy="699.6" r="6.8" fill="#f00"/>
<text class="ser" x="800" y="710.5" font-size="28.5">Measured</text>
<g fill="#fff" stroke="#8c8c8c" stroke-width="0.9"><path d="M730.8,758.2 c-6.6,0 -12,4.8 -12,10.7 c0,3.3 1.7,6.2 4.3,8.2 l-1.3,4 l4.4,-2.4 c1.4,0.5 3,0.8 4.6,0.8 c6.6,0 12,-4.8 12,-10.6 c0,-5.9 -5.4,-10.7 -12,-10.7z"/><path d="M743,767 c-6.1,0 -11.1,4.5 -11.1,10.1 c0,5.6 5,10.1 11.1,10.1 c1.4,0 2.8,-0.2 4.1,-0.7 l3.6,2.1 l-0.9,-3.6 c2.6,-1.8 4.3,-4.7 4.3,-7.9 c0,-5.6 -5,-10.1 -11.1,-10.1z"/></g>
<g fill="none" stroke="#8c8c8c" stroke-width="0.8"><circle cx="725.8" cy="764.3" r="1.2"/><circle cx="736.4" cy="764.3" r="1.2"/><circle cx="739.3" cy="772.8" r="1.1"/><circle cx="747" cy="772.8" r="1.1"/></g>
<text x="761.5" y="782" font-size="23" fill="#f6f6f6" stroke="#949494" stroke-width="0.75" style="font-family:'Liberation Sans','Noto Sans CJK SC',sans-serif">材料科学与工程</text>
</svg></body></html>
